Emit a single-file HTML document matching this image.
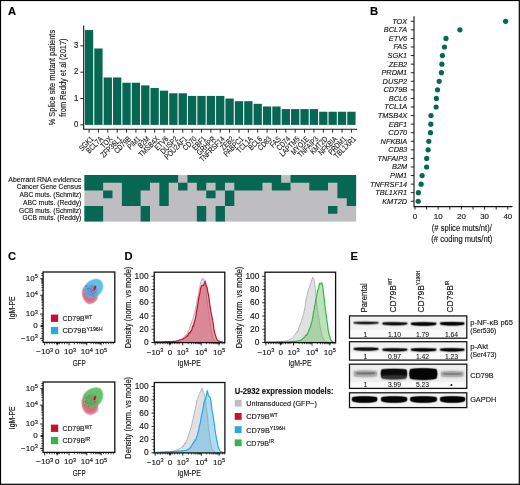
<!DOCTYPE html>
<html><head><meta charset="utf-8"><style>
html,body{margin:0;padding:0;background:#fff;}
body{width:520px;height:485px;overflow:hidden;}
svg{display:block;will-change:transform;font-family:"Liberation Sans",sans-serif;}
text{stroke:#161414;stroke-width:0.14px;}
</style></head><body>
<svg width="520" height="485" viewBox="0 0 520 485">
<defs>
<filter id="blur05" x="-20%" y="-100%" width="140%" height="300%"><feGaussianBlur stdDeviation="0.5"/></filter>
<filter id="blur06" x="-30%" y="-60%" width="160%" height="220%"><feGaussianBlur stdDeviation="0.6"/></filter>
<filter id="blur07" x="-20%" y="-150%" width="140%" height="400%"><feGaussianBlur stdDeviation="0.7"/></filter>
<filter id="blur08" x="-20%" y="-100%" width="140%" height="300%"><feGaussianBlur stdDeviation="0.8"/></filter>
<filter id="blur10" x="-20%" y="-150%" width="140%" height="400%"><feGaussianBlur stdDeviation="1.0"/></filter>
<filter id="blur12" x="-30%" y="-150%" width="160%" height="400%"><feGaussianBlur stdDeviation="1.2"/></filter>
</defs>
<rect x="0" y="0" width="520" height="485" fill="#fff"/>
<g id="A">
<text x="8.00" y="15.20" font-size="11.2" text-anchor="start" font-weight="bold" font-style="normal" fill="#000" >A</text>
<rect x="84.90" y="30.04" width="8.3" height="94.86" fill="#066852"/>
<rect x="94.27" y="48.48" width="8.3" height="76.42" fill="#066852"/>
<rect x="103.64" y="77.47" width="8.3" height="47.43" fill="#066852"/>
<rect x="113.01" y="77.47" width="8.3" height="47.43" fill="#066852"/>
<rect x="122.38" y="82.74" width="8.3" height="42.16" fill="#066852"/>
<rect x="131.75" y="82.74" width="8.3" height="42.16" fill="#066852"/>
<rect x="141.12" y="85.38" width="8.3" height="39.53" fill="#066852"/>
<rect x="150.49" y="88.01" width="8.3" height="36.89" fill="#066852"/>
<rect x="159.86" y="90.65" width="8.3" height="34.25" fill="#066852"/>
<rect x="169.23" y="93.28" width="8.3" height="31.62" fill="#066852"/>
<rect x="178.60" y="93.28" width="8.3" height="31.62" fill="#066852"/>
<rect x="187.97" y="95.92" width="8.3" height="28.98" fill="#066852"/>
<rect x="197.34" y="95.92" width="8.3" height="28.98" fill="#066852"/>
<rect x="206.71" y="95.92" width="8.3" height="28.98" fill="#066852"/>
<rect x="216.08" y="95.92" width="8.3" height="28.98" fill="#066852"/>
<rect x="225.45" y="98.55" width="8.3" height="26.35" fill="#066852"/>
<rect x="234.82" y="101.19" width="8.3" height="23.72" fill="#066852"/>
<rect x="244.19" y="101.19" width="8.3" height="23.72" fill="#066852"/>
<rect x="253.56" y="103.82" width="8.3" height="21.08" fill="#066852"/>
<rect x="262.93" y="106.46" width="8.3" height="18.44" fill="#066852"/>
<rect x="272.30" y="106.46" width="8.3" height="18.44" fill="#066852"/>
<rect x="281.67" y="109.09" width="8.3" height="15.81" fill="#066852"/>
<rect x="291.04" y="109.09" width="8.3" height="15.81" fill="#066852"/>
<rect x="300.41" y="109.09" width="8.3" height="15.81" fill="#066852"/>
<rect x="309.78" y="109.09" width="8.3" height="15.81" fill="#066852"/>
<rect x="319.15" y="111.73" width="8.3" height="13.17" fill="#066852"/>
<rect x="328.52" y="111.73" width="8.3" height="13.17" fill="#066852"/>
<rect x="337.89" y="111.73" width="8.3" height="13.17" fill="#066852"/>
<rect x="347.26" y="111.73" width="8.3" height="13.17" fill="#066852"/>
<path d="M83.7 25.5 V129.2 H357" fill="none" stroke="#111" stroke-width="1.1"/>
<line x1="80.3" y1="124.90" x2="83.7" y2="124.90" stroke="#111" stroke-width="0.9"/>
<text x="78.30" y="127.00" font-size="8.4" text-anchor="end" font-weight="normal" font-style="normal" fill="#161414" textLength="4.3" lengthAdjust="spacingAndGlyphs" >0</text>
<line x1="80.3" y1="98.55" x2="83.7" y2="98.55" stroke="#111" stroke-width="0.9"/>
<text x="78.30" y="100.65" font-size="8.4" text-anchor="end" font-weight="normal" font-style="normal" fill="#161414" textLength="4.3" lengthAdjust="spacingAndGlyphs" >1</text>
<line x1="80.3" y1="72.20" x2="83.7" y2="72.20" stroke="#111" stroke-width="0.9"/>
<text x="78.30" y="74.30" font-size="8.4" text-anchor="end" font-weight="normal" font-style="normal" fill="#161414" textLength="4.3" lengthAdjust="spacingAndGlyphs" >2</text>
<line x1="80.3" y1="45.85" x2="83.7" y2="45.85" stroke="#111" stroke-width="0.9"/>
<text x="78.30" y="47.95" font-size="8.4" text-anchor="end" font-weight="normal" font-style="normal" fill="#161414" textLength="4.3" lengthAdjust="spacingAndGlyphs" >3</text>
<line x1="89.05" y1="129.2" x2="89.05" y2="132.7" stroke="#111" stroke-width="0.9"/>
<text transform="translate(94.05,139.6) rotate(-45) scale(0.8,1)" font-size="7.9" text-anchor="end" fill="#161414" style="stroke-width:0.1px">SGK1</text>
<line x1="98.42" y1="129.2" x2="98.42" y2="132.7" stroke="#111" stroke-width="0.9"/>
<text transform="translate(103.42,139.6) rotate(-45) scale(0.8,1)" font-size="7.9" text-anchor="end" fill="#161414" style="stroke-width:0.1px">BCL7A</text>
<line x1="107.79" y1="129.2" x2="107.79" y2="132.7" stroke="#111" stroke-width="0.9"/>
<text transform="translate(112.79,139.6) rotate(-45) scale(0.8,1)" font-size="7.9" text-anchor="end" fill="#161414" style="stroke-width:0.1px">TOX</text>
<line x1="117.16" y1="129.2" x2="117.16" y2="132.7" stroke="#111" stroke-width="0.9"/>
<text transform="translate(122.16,139.6) rotate(-45) scale(0.8,1)" font-size="7.9" text-anchor="end" fill="#161414" style="stroke-width:0.1px">ZFP36L1</text>
<line x1="126.53" y1="129.2" x2="126.53" y2="132.7" stroke="#111" stroke-width="0.9"/>
<text transform="translate(131.53,139.6) rotate(-45) scale(0.8,1)" font-size="7.9" text-anchor="end" fill="#161414" style="stroke-width:0.1px">CD79B</text>
<line x1="135.90" y1="129.2" x2="135.90" y2="132.7" stroke="#111" stroke-width="0.9"/>
<text transform="translate(140.90,139.6) rotate(-45) scale(0.8,1)" font-size="7.9" text-anchor="end" fill="#161414" style="stroke-width:0.1px">PIM1</text>
<line x1="145.27" y1="129.2" x2="145.27" y2="132.7" stroke="#111" stroke-width="0.9"/>
<text transform="translate(150.27,139.6) rotate(-45) scale(0.8,1)" font-size="7.9" text-anchor="end" fill="#161414" style="stroke-width:0.1px">B2M</text>
<line x1="154.64" y1="129.2" x2="154.64" y2="132.7" stroke="#111" stroke-width="0.9"/>
<text transform="translate(159.64,139.6) rotate(-45) scale(0.8,1)" font-size="7.9" text-anchor="end" fill="#161414" style="stroke-width:0.1px">TMSB4X</text>
<line x1="164.01" y1="129.2" x2="164.01" y2="132.7" stroke="#111" stroke-width="0.9"/>
<text transform="translate(169.01,139.6) rotate(-45) scale(0.8,1)" font-size="7.9" text-anchor="end" fill="#161414" style="stroke-width:0.1px">ETV6</text>
<line x1="173.38" y1="129.2" x2="173.38" y2="132.7" stroke="#111" stroke-width="0.9"/>
<text transform="translate(178.38,139.6) rotate(-45) scale(0.8,1)" font-size="7.9" text-anchor="end" fill="#161414" style="stroke-width:0.1px">DUSP2</text>
<line x1="182.75" y1="129.2" x2="182.75" y2="132.7" stroke="#111" stroke-width="0.9"/>
<text transform="translate(187.75,139.6) rotate(-45) scale(0.8,1)" font-size="7.9" text-anchor="end" fill="#161414" style="stroke-width:0.1px">POU2AF1</text>
<line x1="192.12" y1="129.2" x2="192.12" y2="132.7" stroke="#111" stroke-width="0.9"/>
<text transform="translate(197.12,139.6) rotate(-45) scale(0.8,1)" font-size="7.9" text-anchor="end" fill="#161414" style="stroke-width:0.1px">CD70</text>
<line x1="201.49" y1="129.2" x2="201.49" y2="132.7" stroke="#111" stroke-width="0.9"/>
<text transform="translate(206.49,139.6) rotate(-45) scale(0.8,1)" font-size="7.9" text-anchor="end" fill="#161414" style="stroke-width:0.1px">EBF1</text>
<line x1="210.86" y1="129.2" x2="210.86" y2="132.7" stroke="#111" stroke-width="0.9"/>
<text transform="translate(215.86,139.6) rotate(-45) scale(0.8,1)" font-size="7.9" text-anchor="end" fill="#161414" style="stroke-width:0.1px">GRHPR</text>
<line x1="220.23" y1="129.2" x2="220.23" y2="132.7" stroke="#111" stroke-width="0.9"/>
<text transform="translate(225.23,139.6) rotate(-45) scale(0.8,1)" font-size="7.9" text-anchor="end" fill="#161414" style="stroke-width:0.1px">TNFRSF14</text>
<line x1="229.60" y1="129.2" x2="229.60" y2="132.7" stroke="#111" stroke-width="0.9"/>
<text transform="translate(234.60,139.6) rotate(-45) scale(0.8,1)" font-size="7.9" text-anchor="end" fill="#161414" style="stroke-width:0.1px">ZEB2</text>
<line x1="238.97" y1="129.2" x2="238.97" y2="132.7" stroke="#111" stroke-width="0.9"/>
<text transform="translate(243.97,139.6) rotate(-45) scale(0.8,1)" font-size="7.9" text-anchor="end" fill="#161414" style="stroke-width:0.1px">PABPC1</text>
<line x1="248.34" y1="129.2" x2="248.34" y2="132.7" stroke="#111" stroke-width="0.9"/>
<text transform="translate(253.34,139.6) rotate(-45) scale(0.8,1)" font-size="7.9" text-anchor="end" fill="#161414" style="stroke-width:0.1px">TCL1A</text>
<line x1="257.71" y1="129.2" x2="257.71" y2="132.7" stroke="#111" stroke-width="0.9"/>
<text transform="translate(262.71,139.6) rotate(-45) scale(0.8,1)" font-size="7.9" text-anchor="end" fill="#161414" style="stroke-width:0.1px">BCL6</text>
<line x1="267.08" y1="129.2" x2="267.08" y2="132.7" stroke="#111" stroke-width="0.9"/>
<text transform="translate(272.08,139.6) rotate(-45) scale(0.8,1)" font-size="7.9" text-anchor="end" fill="#161414" style="stroke-width:0.1px">CD83</text>
<line x1="276.45" y1="129.2" x2="276.45" y2="132.7" stroke="#111" stroke-width="0.9"/>
<text transform="translate(281.45,139.6) rotate(-45) scale(0.8,1)" font-size="7.9" text-anchor="end" fill="#161414" style="stroke-width:0.1px">FAS</text>
<line x1="285.82" y1="129.2" x2="285.82" y2="132.7" stroke="#111" stroke-width="0.9"/>
<text transform="translate(290.82,139.6) rotate(-45) scale(0.8,1)" font-size="7.9" text-anchor="end" fill="#161414" style="stroke-width:0.1px">CD74</text>
<line x1="295.19" y1="129.2" x2="295.19" y2="132.7" stroke="#111" stroke-width="0.9"/>
<text transform="translate(300.19,139.6) rotate(-45) scale(0.8,1)" font-size="7.9" text-anchor="end" fill="#161414" style="stroke-width:0.1px">LAPTM5</text>
<line x1="304.56" y1="129.2" x2="304.56" y2="132.7" stroke="#111" stroke-width="0.9"/>
<text transform="translate(309.56,139.6) rotate(-45) scale(0.8,1)" font-size="7.9" text-anchor="end" fill="#161414" style="stroke-width:0.1px">MYO1E</text>
<line x1="313.93" y1="129.2" x2="313.93" y2="132.7" stroke="#111" stroke-width="0.9"/>
<text transform="translate(318.93,139.6) rotate(-45) scale(0.8,1)" font-size="7.9" text-anchor="end" fill="#161414" style="stroke-width:0.1px">TNFAIP3</text>
<line x1="323.30" y1="129.2" x2="323.30" y2="132.7" stroke="#111" stroke-width="0.9"/>
<text transform="translate(328.30,139.6) rotate(-45) scale(0.8,1)" font-size="7.9" text-anchor="end" fill="#161414" style="stroke-width:0.1px">KMT2D</text>
<line x1="332.67" y1="129.2" x2="332.67" y2="132.7" stroke="#111" stroke-width="0.9"/>
<text transform="translate(337.67,139.6) rotate(-45) scale(0.8,1)" font-size="7.9" text-anchor="end" fill="#161414" style="stroke-width:0.1px">NFKBIA</text>
<line x1="342.04" y1="129.2" x2="342.04" y2="132.7" stroke="#111" stroke-width="0.9"/>
<text transform="translate(347.04,139.6) rotate(-45) scale(0.8,1)" font-size="7.9" text-anchor="end" fill="#161414" style="stroke-width:0.1px">PRDM1</text>
<line x1="351.41" y1="129.2" x2="351.41" y2="132.7" stroke="#111" stroke-width="0.9"/>
<text transform="translate(356.41,139.6) rotate(-45) scale(0.8,1)" font-size="7.9" text-anchor="end" fill="#161414" style="stroke-width:0.1px">TBL1XR1</text>
<text transform="translate(54.6,77.6) rotate(-90)" font-size="9.3" text-anchor="middle" fill="#161414" textLength="95.5" lengthAdjust="spacingAndGlyphs">% Splice site mutant patients</text>
<text transform="translate(65.6,77.6) rotate(-90)" font-size="9.3" text-anchor="middle" fill="#161414" textLength="78.4" lengthAdjust="spacingAndGlyphs">from Reddy et al (2017)</text>
<rect x="84.4" y="175.1" width="271.73" height="46.50" fill="#bebdc2"/>
<path d="M84.40 175.10h9.37v7.75h-9.37ZM84.40 182.85h9.37v7.75h-9.37ZM84.40 206.10h9.37v7.75h-9.37ZM84.40 213.85h9.37v7.75h-9.37ZM93.77 175.10h9.37v7.75h-9.37ZM93.77 182.85h9.37v7.75h-9.37ZM93.77 206.10h9.37v7.75h-9.37ZM93.77 213.85h9.37v7.75h-9.37ZM103.14 175.10h9.37v7.75h-9.37ZM103.14 190.60h9.37v7.75h-9.37ZM112.51 175.10h9.37v7.75h-9.37ZM121.88 175.10h9.37v7.75h-9.37ZM121.88 182.85h9.37v7.75h-9.37ZM121.88 190.60h9.37v7.75h-9.37ZM121.88 198.35h9.37v7.75h-9.37ZM131.25 175.10h9.37v7.75h-9.37ZM131.25 182.85h9.37v7.75h-9.37ZM131.25 190.60h9.37v7.75h-9.37ZM131.25 198.35h9.37v7.75h-9.37ZM140.62 175.10h9.37v7.75h-9.37ZM140.62 182.85h9.37v7.75h-9.37ZM140.62 206.10h9.37v7.75h-9.37ZM140.62 213.85h9.37v7.75h-9.37ZM149.99 175.10h9.37v7.75h-9.37ZM159.36 175.10h9.37v7.75h-9.37ZM159.36 182.85h9.37v7.75h-9.37ZM159.36 190.60h9.37v7.75h-9.37ZM159.36 198.35h9.37v7.75h-9.37ZM168.73 175.10h9.37v7.75h-9.37ZM178.10 182.85h9.37v7.75h-9.37ZM187.47 175.10h9.37v7.75h-9.37ZM196.84 175.10h9.37v7.75h-9.37ZM196.84 182.85h9.37v7.75h-9.37ZM196.84 206.10h9.37v7.75h-9.37ZM196.84 213.85h9.37v7.75h-9.37ZM206.21 175.10h9.37v7.75h-9.37ZM206.21 190.60h9.37v7.75h-9.37ZM215.58 175.10h9.37v7.75h-9.37ZM215.58 182.85h9.37v7.75h-9.37ZM215.58 206.10h9.37v7.75h-9.37ZM215.58 213.85h9.37v7.75h-9.37ZM224.95 175.10h9.37v7.75h-9.37ZM224.95 190.60h9.37v7.75h-9.37ZM224.95 198.35h9.37v7.75h-9.37ZM234.32 175.10h9.37v7.75h-9.37ZM234.32 182.85h9.37v7.75h-9.37ZM243.69 175.10h9.37v7.75h-9.37ZM243.69 182.85h9.37v7.75h-9.37ZM253.06 175.10h9.37v7.75h-9.37ZM253.06 182.85h9.37v7.75h-9.37ZM262.43 175.10h9.37v7.75h-9.37ZM271.80 175.10h9.37v7.75h-9.37ZM271.80 182.85h9.37v7.75h-9.37ZM281.17 182.85h9.37v7.75h-9.37ZM290.54 175.10h9.37v7.75h-9.37ZM299.91 175.10h9.37v7.75h-9.37ZM309.28 175.10h9.37v7.75h-9.37ZM309.28 182.85h9.37v7.75h-9.37ZM318.65 175.10h9.37v7.75h-9.37ZM318.65 182.85h9.37v7.75h-9.37ZM328.02 175.10h9.37v7.75h-9.37ZM328.02 206.10h9.37v7.75h-9.37ZM337.39 175.10h9.37v7.75h-9.37ZM337.39 182.85h9.37v7.75h-9.37ZM337.39 190.60h9.37v7.75h-9.37ZM346.76 175.10h9.37v7.75h-9.37ZM346.76 182.85h9.37v7.75h-9.37ZM346.76 190.60h9.37v7.75h-9.37ZM346.76 198.35h9.37v7.75h-9.37Z" fill="#066852"/>
<text x="81.30" y="181.57" font-size="7.2" text-anchor="end" font-weight="normal" font-style="normal" fill="#161414" textLength="73" lengthAdjust="spacingAndGlyphs" >Aberrant RNA evidence</text>
<text x="81.30" y="189.32" font-size="7.2" text-anchor="end" font-weight="normal" font-style="normal" fill="#161414" textLength="64.5" lengthAdjust="spacingAndGlyphs" >Cancer Gene Census</text>
<text x="81.30" y="197.07" font-size="7.2" text-anchor="end" font-weight="normal" font-style="normal" fill="#161414" textLength="61.8" lengthAdjust="spacingAndGlyphs" >ABC muts. (Schmitz)</text>
<text x="81.30" y="204.82" font-size="7.2" text-anchor="end" font-weight="normal" font-style="normal" fill="#161414" textLength="58.3" lengthAdjust="spacingAndGlyphs" >ABC muts. (Reddy)</text>
<text x="81.30" y="212.57" font-size="7.2" text-anchor="end" font-weight="normal" font-style="normal" fill="#161414" textLength="62.3" lengthAdjust="spacingAndGlyphs" >GCB muts. (Schmitz)</text>
<text x="81.30" y="220.32" font-size="7.2" text-anchor="end" font-weight="normal" font-style="normal" fill="#161414" textLength="58.8" lengthAdjust="spacingAndGlyphs" >GCB muts. (Reddy)</text>
</g>
<g id="B">
<text x="370.00" y="14.90" font-size="11.2" text-anchor="start" font-weight="bold" font-style="normal" fill="#000" >B</text>
<path d="M414 16.3 V206.6 H512.5" fill="none" stroke="#111" stroke-width="1.1"/>
<line x1="410.8" y1="21.30" x2="414" y2="21.30" stroke="#111" stroke-width="0.9"/>
<text x="407.20" y="23.70" font-size="7.6" text-anchor="end" font-weight="normal" font-style="italic" fill="#161414" textLength="15.020449999999999" lengthAdjust="spacingAndGlyphs" >TOX</text>
<circle cx="505.6" cy="21.30" r="2.6" fill="#066852"/>
<line x1="410.8" y1="29.87" x2="414" y2="29.87" stroke="#111" stroke-width="0.9"/>
<text x="407.20" y="32.27" font-size="7.6" text-anchor="end" font-weight="normal" font-style="italic" fill="#161414" textLength="23.357721249999997" lengthAdjust="spacingAndGlyphs" >BCL7A</text>
<circle cx="459.9" cy="29.87" r="2.6" fill="#066852"/>
<line x1="410.8" y1="38.44" x2="414" y2="38.44" stroke="#111" stroke-width="0.9"/>
<text x="407.20" y="40.84" font-size="7.6" text-anchor="end" font-weight="normal" font-style="italic" fill="#161414" textLength="18.436911249999998" lengthAdjust="spacingAndGlyphs" >ETV6</text>
<circle cx="446" cy="38.44" r="2.6" fill="#066852"/>
<line x1="410.8" y1="47.01" x2="414" y2="47.01" stroke="#111" stroke-width="0.9"/>
<text x="407.20" y="49.41" font-size="7.6" text-anchor="end" font-weight="normal" font-style="italic" fill="#161414" textLength="13.7902475" lengthAdjust="spacingAndGlyphs" >FAS</text>
<circle cx="444.5" cy="47.01" r="2.6" fill="#066852"/>
<line x1="410.8" y1="55.58" x2="414" y2="55.58" stroke="#111" stroke-width="0.9"/>
<text x="407.20" y="57.98" font-size="7.6" text-anchor="end" font-weight="normal" font-style="italic" fill="#161414" textLength="19.668265625" lengthAdjust="spacingAndGlyphs" >SGK1</text>
<circle cx="442.4" cy="55.58" r="2.6" fill="#066852"/>
<line x1="410.8" y1="64.15" x2="414" y2="64.15" stroke="#111" stroke-width="0.9"/>
<text x="407.20" y="66.55" font-size="7.6" text-anchor="end" font-weight="normal" font-style="italic" fill="#161414" textLength="18.436911249999998" lengthAdjust="spacingAndGlyphs" >ZEB2</text>
<circle cx="441.9" cy="64.15" r="2.6" fill="#066852"/>
<line x1="410.8" y1="72.72" x2="414" y2="72.72" stroke="#111" stroke-width="0.9"/>
<text x="407.20" y="75.12" font-size="7.6" text-anchor="end" font-weight="normal" font-style="italic" fill="#161414" textLength="25.805455624999997" lengthAdjust="spacingAndGlyphs" >PRDM1</text>
<circle cx="441.4" cy="72.72" r="2.6" fill="#066852"/>
<line x1="410.8" y1="81.29" x2="414" y2="81.29" stroke="#111" stroke-width="0.9"/>
<text x="407.20" y="83.69" font-size="7.6" text-anchor="end" font-weight="normal" font-style="italic" fill="#161414" textLength="24.582164374999998" lengthAdjust="spacingAndGlyphs" >DUSP2</text>
<circle cx="439.2" cy="81.29" r="2.6" fill="#066852"/>
<line x1="410.8" y1="89.86" x2="414" y2="89.86" stroke="#111" stroke-width="0.9"/>
<text x="407.20" y="92.26" font-size="7.6" text-anchor="end" font-weight="normal" font-style="italic" fill="#161414" textLength="23.764333124999997" lengthAdjust="spacingAndGlyphs" >CD79B</text>
<circle cx="437.5" cy="89.86" r="2.6" fill="#066852"/>
<line x1="410.8" y1="98.43" x2="414" y2="98.43" stroke="#111" stroke-width="0.9"/>
<text x="407.20" y="100.83" font-size="7.6" text-anchor="end" font-weight="normal" font-style="italic" fill="#161414" textLength="18.440366875" lengthAdjust="spacingAndGlyphs" >BCL6</text>
<circle cx="436.4" cy="98.43" r="2.6" fill="#066852"/>
<line x1="410.8" y1="107.00" x2="414" y2="107.00" stroke="#111" stroke-width="0.9"/>
<text x="407.20" y="109.40" font-size="7.6" text-anchor="end" font-weight="normal" font-style="italic" fill="#161414" textLength="22.94304625" lengthAdjust="spacingAndGlyphs" >TCL1A</text>
<circle cx="436.1" cy="107.00" r="2.6" fill="#066852"/>
<line x1="410.8" y1="115.57" x2="414" y2="115.57" stroke="#111" stroke-width="0.9"/>
<text x="407.20" y="117.97" font-size="7.6" text-anchor="end" font-weight="normal" font-style="italic" fill="#161414" textLength="29.494911249999998" lengthAdjust="spacingAndGlyphs" >TMSB4X</text>
<circle cx="431" cy="115.57" r="2.6" fill="#066852"/>
<line x1="410.8" y1="124.14" x2="414" y2="124.14" stroke="#111" stroke-width="0.9"/>
<text x="407.20" y="126.54" font-size="7.6" text-anchor="end" font-weight="normal" font-style="italic" fill="#161414" textLength="18.436911249999998" lengthAdjust="spacingAndGlyphs" >EBF1</text>
<circle cx="430.8" cy="124.14" r="2.6" fill="#066852"/>
<line x1="410.8" y1="132.71" x2="414" y2="132.71" stroke="#111" stroke-width="0.9"/>
<text x="407.20" y="135.11" font-size="7.6" text-anchor="end" font-weight="normal" font-style="italic" fill="#161414" textLength="18.846978749999998" lengthAdjust="spacingAndGlyphs" >CD70</text>
<circle cx="430.5" cy="132.71" r="2.6" fill="#066852"/>
<line x1="410.8" y1="141.28" x2="414" y2="141.28" stroke="#111" stroke-width="0.9"/>
<text x="407.20" y="143.68" font-size="7.6" text-anchor="end" font-weight="normal" font-style="italic" fill="#161414" textLength="26.626742499999995" lengthAdjust="spacingAndGlyphs" >NFKBIA</text>
<circle cx="428.8" cy="141.28" r="2.6" fill="#066852"/>
<line x1="410.8" y1="149.85" x2="414" y2="149.85" stroke="#111" stroke-width="0.9"/>
<text x="407.20" y="152.25" font-size="7.6" text-anchor="end" font-weight="normal" font-style="italic" fill="#161414" textLength="18.846978749999998" lengthAdjust="spacingAndGlyphs" >CD83</text>
<circle cx="428.1" cy="149.85" r="2.6" fill="#066852"/>
<line x1="410.8" y1="158.42" x2="414" y2="158.42" stroke="#111" stroke-width="0.9"/>
<text x="407.20" y="160.82" font-size="7.6" text-anchor="end" font-weight="normal" font-style="italic" fill="#161414" textLength="29.764449999999993" lengthAdjust="spacingAndGlyphs" >TNFAIP3</text>
<circle cx="426.7" cy="158.42" r="2.6" fill="#066852"/>
<line x1="410.8" y1="166.99" x2="414" y2="166.99" stroke="#111" stroke-width="0.9"/>
<text x="407.20" y="169.39" font-size="7.6" text-anchor="end" font-weight="normal" font-style="italic" fill="#161414" textLength="15.157523124999999" lengthAdjust="spacingAndGlyphs" >B2M</text>
<circle cx="426.6" cy="166.99" r="2.6" fill="#066852"/>
<line x1="410.8" y1="175.56" x2="414" y2="175.56" stroke="#111" stroke-width="0.9"/>
<text x="407.20" y="177.96" font-size="7.6" text-anchor="end" font-weight="normal" font-style="italic" fill="#161414" textLength="17.205556875" lengthAdjust="spacingAndGlyphs" >PIM1</text>
<circle cx="422.1" cy="175.56" r="2.6" fill="#066852"/>
<line x1="410.8" y1="184.13" x2="414" y2="184.13" stroke="#111" stroke-width="0.9"/>
<text x="407.20" y="186.53" font-size="7.6" text-anchor="end" font-weight="normal" font-style="italic" fill="#161414" textLength="37.27237124999999" lengthAdjust="spacingAndGlyphs" >TNFRSF14</text>
<circle cx="421.1" cy="184.13" r="2.6" fill="#066852"/>
<line x1="410.8" y1="192.70" x2="414" y2="192.70" stroke="#111" stroke-width="0.9"/>
<text x="407.20" y="195.10" font-size="7.6" text-anchor="end" font-weight="normal" font-style="italic" fill="#161414" textLength="31.959923749999998" lengthAdjust="spacingAndGlyphs" >TBL1XR1</text>
<circle cx="418.4" cy="192.70" r="2.6" fill="#066852"/>
<line x1="410.8" y1="201.27" x2="414" y2="201.27" stroke="#111" stroke-width="0.9"/>
<text x="407.20" y="203.67" font-size="7.6" text-anchor="end" font-weight="normal" font-style="italic" fill="#161414" textLength="24.98416875" lengthAdjust="spacingAndGlyphs" >KMT2D</text>
<circle cx="418.2" cy="201.27" r="2.6" fill="#066852"/>
<line x1="415.00" y1="206.6" x2="415.00" y2="209.6" stroke="#111" stroke-width="0.9"/>
<text x="415.00" y="218.90" font-size="7.9" text-anchor="middle" font-weight="normal" font-style="normal" fill="#161414" >0</text>
<line x1="426.60" y1="206.6" x2="426.60" y2="209.6" stroke="#111" stroke-width="0.9"/>
<line x1="438.20" y1="206.6" x2="438.20" y2="209.6" stroke="#111" stroke-width="0.9"/>
<text x="438.20" y="218.90" font-size="7.9" text-anchor="middle" font-weight="normal" font-style="normal" fill="#161414" >10</text>
<line x1="449.80" y1="206.6" x2="449.80" y2="209.6" stroke="#111" stroke-width="0.9"/>
<line x1="461.40" y1="206.6" x2="461.40" y2="209.6" stroke="#111" stroke-width="0.9"/>
<text x="461.40" y="218.90" font-size="7.9" text-anchor="middle" font-weight="normal" font-style="normal" fill="#161414" >20</text>
<line x1="473.00" y1="206.6" x2="473.00" y2="209.6" stroke="#111" stroke-width="0.9"/>
<line x1="484.60" y1="206.6" x2="484.60" y2="209.6" stroke="#111" stroke-width="0.9"/>
<text x="484.60" y="218.90" font-size="7.9" text-anchor="middle" font-weight="normal" font-style="normal" fill="#161414" >30</text>
<line x1="496.20" y1="206.6" x2="496.20" y2="209.6" stroke="#111" stroke-width="0.9"/>
<line x1="507.80" y1="206.6" x2="507.80" y2="209.6" stroke="#111" stroke-width="0.9"/>
<text x="507.80" y="218.90" font-size="7.9" text-anchor="middle" font-weight="normal" font-style="normal" fill="#161414" >40</text>
<text x="461.80" y="230.60" font-size="8.3" text-anchor="middle" font-weight="normal" font-style="normal" fill="#161414" textLength="60" lengthAdjust="spacingAndGlyphs" >(# splice muts/nt)/</text>
<text x="461.80" y="241.70" font-size="8.3" text-anchor="middle" font-weight="normal" font-style="normal" fill="#161414" textLength="61" lengthAdjust="spacingAndGlyphs" >(# coding muts/nt)</text>
</g>
<g id="C">
<text x="8.00" y="260.20" font-size="11.2" text-anchor="start" font-weight="bold" font-style="normal" fill="#000" >C</text>
<line x1="41.30" y1="290.23" x2="43.10" y2="290.23" stroke="#111" stroke-width="0.75"/>
<line x1="41.30" y1="287.33" x2="43.10" y2="287.33" stroke="#111" stroke-width="0.75"/>
<line x1="41.30" y1="285.27" x2="43.10" y2="285.27" stroke="#111" stroke-width="0.75"/>
<line x1="41.30" y1="283.67" x2="43.10" y2="283.67" stroke="#111" stroke-width="0.75"/>
<line x1="41.30" y1="282.36" x2="43.10" y2="282.36" stroke="#111" stroke-width="0.75"/>
<line x1="41.30" y1="281.26" x2="43.10" y2="281.26" stroke="#111" stroke-width="0.75"/>
<line x1="41.30" y1="280.30" x2="43.10" y2="280.30" stroke="#111" stroke-width="0.75"/>
<line x1="41.30" y1="279.45" x2="43.10" y2="279.45" stroke="#111" stroke-width="0.75"/>
<line x1="41.30" y1="308.34" x2="43.10" y2="308.34" stroke="#111" stroke-width="0.75"/>
<line x1="41.30" y1="305.03" x2="43.10" y2="305.03" stroke="#111" stroke-width="0.75"/>
<line x1="41.30" y1="302.68" x2="43.10" y2="302.68" stroke="#111" stroke-width="0.75"/>
<line x1="41.30" y1="300.86" x2="43.10" y2="300.86" stroke="#111" stroke-width="0.75"/>
<line x1="41.30" y1="299.37" x2="43.10" y2="299.37" stroke="#111" stroke-width="0.75"/>
<line x1="41.30" y1="298.11" x2="43.10" y2="298.11" stroke="#111" stroke-width="0.75"/>
<line x1="41.30" y1="297.02" x2="43.10" y2="297.02" stroke="#111" stroke-width="0.75"/>
<line x1="41.30" y1="296.06" x2="43.10" y2="296.06" stroke="#111" stroke-width="0.75"/>
<line x1="41.30" y1="273.50" x2="43.10" y2="273.50" stroke="#111" stroke-width="0.75"/>
<line x1="41.30" y1="275.50" x2="43.10" y2="275.50" stroke="#111" stroke-width="0.75"/>
<line x1="41.30" y1="316.00" x2="43.10" y2="316.00" stroke="#111" stroke-width="0.75"/>
<line x1="41.30" y1="318.50" x2="43.10" y2="318.50" stroke="#111" stroke-width="0.75"/>
<line x1="41.30" y1="321.00" x2="43.10" y2="321.00" stroke="#111" stroke-width="0.75"/>
<line x1="41.30" y1="323.50" x2="43.10" y2="323.50" stroke="#111" stroke-width="0.75"/>
<line x1="41.30" y1="326.00" x2="43.10" y2="326.00" stroke="#111" stroke-width="0.75"/>
<line x1="41.30" y1="328.50" x2="43.10" y2="328.50" stroke="#111" stroke-width="0.75"/>
<line x1="41.30" y1="331.00" x2="43.10" y2="331.00" stroke="#111" stroke-width="0.75"/>
<line x1="41.30" y1="333.50" x2="43.10" y2="333.50" stroke="#111" stroke-width="0.75"/>
<line x1="41.30" y1="336.00" x2="43.10" y2="336.00" stroke="#111" stroke-width="0.75"/>
<line x1="41.30" y1="338.40" x2="43.10" y2="338.40" stroke="#111" stroke-width="0.75"/>
<line x1="41.30" y1="340.50" x2="43.10" y2="340.50" stroke="#111" stroke-width="0.75"/>
<line x1="40.10" y1="278.70" x2="43.10" y2="278.70" stroke="#111" stroke-width="0.9"/>
<line x1="40.10" y1="295.20" x2="43.10" y2="295.20" stroke="#111" stroke-width="0.9"/>
<line x1="40.10" y1="314.00" x2="43.10" y2="314.00" stroke="#111" stroke-width="0.9"/>
<line x1="40.10" y1="326.00" x2="43.10" y2="326.00" stroke="#111" stroke-width="0.9"/>
<line x1="40.10" y1="338.40" x2="43.10" y2="338.40" stroke="#111" stroke-width="0.9"/>
<rect x="41.300000000000004" y="324.8" width="1.8" height="2.4" fill="#111"/>
<line x1="44.70" y1="342.40" x2="44.70" y2="345.40" stroke="#111" stroke-width="0.9"/>
<line x1="57.20" y1="342.40" x2="57.20" y2="345.40" stroke="#111" stroke-width="0.9"/>
<line x1="69.10" y1="342.40" x2="69.10" y2="345.40" stroke="#111" stroke-width="0.9"/>
<line x1="86.80" y1="342.40" x2="86.80" y2="345.40" stroke="#111" stroke-width="0.9"/>
<line x1="101.10" y1="342.40" x2="101.10" y2="345.40" stroke="#111" stroke-width="0.9"/>
<line x1="74.43" y1="342.40" x2="74.43" y2="344.20" stroke="#111" stroke-width="0.75"/>
<line x1="77.55" y1="342.40" x2="77.55" y2="344.20" stroke="#111" stroke-width="0.75"/>
<line x1="79.76" y1="342.40" x2="79.76" y2="344.20" stroke="#111" stroke-width="0.75"/>
<line x1="81.47" y1="342.40" x2="81.47" y2="344.20" stroke="#111" stroke-width="0.75"/>
<line x1="82.87" y1="342.40" x2="82.87" y2="344.20" stroke="#111" stroke-width="0.75"/>
<line x1="84.06" y1="342.40" x2="84.06" y2="344.20" stroke="#111" stroke-width="0.75"/>
<line x1="85.08" y1="342.40" x2="85.08" y2="344.20" stroke="#111" stroke-width="0.75"/>
<line x1="85.99" y1="342.40" x2="85.99" y2="344.20" stroke="#111" stroke-width="0.75"/>
<line x1="91.10" y1="342.40" x2="91.10" y2="344.20" stroke="#111" stroke-width="0.75"/>
<line x1="93.62" y1="342.40" x2="93.62" y2="344.20" stroke="#111" stroke-width="0.75"/>
<line x1="95.41" y1="342.40" x2="95.41" y2="344.20" stroke="#111" stroke-width="0.75"/>
<line x1="96.80" y1="342.40" x2="96.80" y2="344.20" stroke="#111" stroke-width="0.75"/>
<line x1="97.93" y1="342.40" x2="97.93" y2="344.20" stroke="#111" stroke-width="0.75"/>
<line x1="98.88" y1="342.40" x2="98.88" y2="344.20" stroke="#111" stroke-width="0.75"/>
<line x1="99.71" y1="342.40" x2="99.71" y2="344.20" stroke="#111" stroke-width="0.75"/>
<line x1="100.45" y1="342.40" x2="100.45" y2="344.20" stroke="#111" stroke-width="0.75"/>
<line x1="47.00" y1="342.40" x2="47.00" y2="344.20" stroke="#111" stroke-width="0.75"/>
<line x1="49.50" y1="342.40" x2="49.50" y2="344.20" stroke="#111" stroke-width="0.75"/>
<line x1="52.00" y1="342.40" x2="52.00" y2="344.20" stroke="#111" stroke-width="0.75"/>
<line x1="54.50" y1="342.40" x2="54.50" y2="344.20" stroke="#111" stroke-width="0.75"/>
<line x1="59.50" y1="342.40" x2="59.50" y2="344.20" stroke="#111" stroke-width="0.75"/>
<line x1="62.00" y1="342.40" x2="62.00" y2="344.20" stroke="#111" stroke-width="0.75"/>
<line x1="64.50" y1="342.40" x2="64.50" y2="344.20" stroke="#111" stroke-width="0.75"/>
<line x1="67.00" y1="342.40" x2="67.00" y2="344.20" stroke="#111" stroke-width="0.75"/>
<line x1="103.50" y1="342.40" x2="103.50" y2="344.20" stroke="#111" stroke-width="0.75"/>
<line x1="106.00" y1="342.40" x2="106.00" y2="344.20" stroke="#111" stroke-width="0.75"/>
<line x1="108.50" y1="342.40" x2="108.50" y2="344.20" stroke="#111" stroke-width="0.75"/>
<line x1="111.00" y1="342.40" x2="111.00" y2="344.20" stroke="#111" stroke-width="0.75"/>
<line x1="113.30" y1="342.40" x2="113.30" y2="344.20" stroke="#111" stroke-width="0.75"/>
<rect x="56.2" y="342.4" width="2.4" height="1.8" fill="#111"/>
<path d="M83.00 288.60 C83.67 287.02 85.17 286.52 86.50 286.00 C87.83 285.48 89.33 284.75 91.00 285.50 C92.67 286.25 95.40 288.67 96.50 290.50 C97.60 292.33 97.78 294.72 97.60 296.50 C97.42 298.28 96.67 299.98 95.40 301.20 C94.13 302.42 91.65 303.75 90.00 303.80 C88.35 303.85 86.75 302.88 85.50 301.50 C84.25 300.12 82.92 297.65 82.50 295.50 C82.08 293.35 82.33 290.18 83.00 288.60Z" fill="#e8879a" stroke="#e8879a" stroke-width="2.40" stroke-linejoin="round" opacity="0.12"/>
<path d="M83.00 288.60 C83.67 287.02 85.17 286.52 86.50 286.00 C87.83 285.48 89.33 284.75 91.00 285.50 C92.67 286.25 95.40 288.67 96.50 290.50 C97.60 292.33 97.78 294.72 97.60 296.50 C97.42 298.28 96.67 299.98 95.40 301.20 C94.13 302.42 91.65 303.75 90.00 303.80 C88.35 303.85 86.75 302.88 85.50 301.50 C84.25 300.12 82.92 297.65 82.50 295.50 C82.08 293.35 82.33 290.18 83.00 288.60Z" fill="#e8879a" stroke="#e8879a" stroke-width="1.60" stroke-linejoin="round" opacity="0.18"/>
<path d="M83.00 288.60 C83.67 287.02 85.17 286.52 86.50 286.00 C87.83 285.48 89.33 284.75 91.00 285.50 C92.67 286.25 95.40 288.67 96.50 290.50 C97.60 292.33 97.78 294.72 97.60 296.50 C97.42 298.28 96.67 299.98 95.40 301.20 C94.13 302.42 91.65 303.75 90.00 303.80 C88.35 303.85 86.75 302.88 85.50 301.50 C84.25 300.12 82.92 297.65 82.50 295.50 C82.08 293.35 82.33 290.18 83.00 288.60Z" fill="#e8879a" stroke="#e8879a" stroke-width="0.80" stroke-linejoin="round" opacity="0.25"/>
<path d="M83.00 288.60 C83.67 287.02 85.17 286.52 86.50 286.00 C87.83 285.48 89.33 284.75 91.00 285.50 C92.67 286.25 95.40 288.67 96.50 290.50 C97.60 292.33 97.78 294.72 97.60 296.50 C97.42 298.28 96.67 299.98 95.40 301.20 C94.13 302.42 91.65 303.75 90.00 303.80 C88.35 303.85 86.75 302.88 85.50 301.50 C84.25 300.12 82.92 297.65 82.50 295.50 C82.08 293.35 82.33 290.18 83.00 288.60Z" fill="#e5798f" opacity="0.9"/>
<path d="M84.10 289.88 C84.63 288.61 85.83 288.21 86.90 287.80 C87.97 287.39 89.17 286.80 90.50 287.40 C91.83 288.00 94.02 289.93 94.90 291.40 C95.78 292.87 95.93 294.77 95.78 296.20 C95.63 297.63 95.03 298.99 94.02 299.96 C93.01 300.93 91.02 302.00 89.70 302.04 C88.38 302.08 87.10 301.31 86.10 300.20 C85.10 299.09 84.03 297.12 83.70 295.40 C83.37 293.68 83.57 291.15 84.10 289.88Z" fill="#d94a68" opacity="0.45"/>
<path d="M96.60 279.30 C97.98 279.47 99.77 279.85 100.80 281.00 C101.83 282.15 102.72 284.45 102.80 286.20 C102.88 287.95 102.18 289.93 101.30 291.50 C100.42 293.07 98.88 294.52 97.50 295.60 C96.12 296.68 94.50 297.68 93.00 298.00 C91.50 298.32 89.75 298.08 88.50 297.50 C87.25 296.92 86.20 295.83 85.50 294.50 C84.80 293.17 84.25 291.08 84.30 289.50 C84.35 287.92 85.05 286.25 85.80 285.00 C86.55 283.75 87.68 282.83 88.80 282.00 C89.92 281.17 91.20 280.45 92.50 280.00 C93.80 279.55 95.22 279.13 96.60 279.30Z" fill="#4db5e6" stroke="#4db5e6" stroke-width="2.40" stroke-linejoin="round" opacity="0.12"/>
<path d="M96.60 279.30 C97.98 279.47 99.77 279.85 100.80 281.00 C101.83 282.15 102.72 284.45 102.80 286.20 C102.88 287.95 102.18 289.93 101.30 291.50 C100.42 293.07 98.88 294.52 97.50 295.60 C96.12 296.68 94.50 297.68 93.00 298.00 C91.50 298.32 89.75 298.08 88.50 297.50 C87.25 296.92 86.20 295.83 85.50 294.50 C84.80 293.17 84.25 291.08 84.30 289.50 C84.35 287.92 85.05 286.25 85.80 285.00 C86.55 283.75 87.68 282.83 88.80 282.00 C89.92 281.17 91.20 280.45 92.50 280.00 C93.80 279.55 95.22 279.13 96.60 279.30Z" fill="#4db5e6" stroke="#4db5e6" stroke-width="1.60" stroke-linejoin="round" opacity="0.18"/>
<path d="M96.60 279.30 C97.98 279.47 99.77 279.85 100.80 281.00 C101.83 282.15 102.72 284.45 102.80 286.20 C102.88 287.95 102.18 289.93 101.30 291.50 C100.42 293.07 98.88 294.52 97.50 295.60 C96.12 296.68 94.50 297.68 93.00 298.00 C91.50 298.32 89.75 298.08 88.50 297.50 C87.25 296.92 86.20 295.83 85.50 294.50 C84.80 293.17 84.25 291.08 84.30 289.50 C84.35 287.92 85.05 286.25 85.80 285.00 C86.55 283.75 87.68 282.83 88.80 282.00 C89.92 281.17 91.20 280.45 92.50 280.00 C93.80 279.55 95.22 279.13 96.60 279.30Z" fill="#4db5e6" stroke="#4db5e6" stroke-width="0.80" stroke-linejoin="round" opacity="0.25"/>
<path d="M96.60 279.30 C97.98 279.47 99.77 279.85 100.80 281.00 C101.83 282.15 102.72 284.45 102.80 286.20 C102.88 287.95 102.18 289.93 101.30 291.50 C100.42 293.07 98.88 294.52 97.50 295.60 C96.12 296.68 94.50 297.68 93.00 298.00 C91.50 298.32 89.75 298.08 88.50 297.50 C87.25 296.92 86.20 295.83 85.50 294.50 C84.80 293.17 84.25 291.08 84.30 289.50 C84.35 287.92 85.05 286.25 85.80 285.00 C86.55 283.75 87.68 282.83 88.80 282.00 C89.92 281.17 91.20 280.45 92.50 280.00 C93.80 279.55 95.22 279.13 96.60 279.30Z" fill="#4db5e6" opacity="0.78"/>
<path d="M93.96 284.78 C94.79 284.88 95.86 285.11 96.48 285.80 C97.10 286.49 97.63 287.87 97.68 288.92 C97.73 289.97 97.31 291.16 96.78 292.10 C96.25 293.04 95.33 293.91 94.50 294.56 C93.67 295.21 92.70 295.81 91.80 296.00 C90.90 296.19 89.85 296.05 89.10 295.70 C88.35 295.35 87.72 294.70 87.30 293.90 C86.88 293.10 86.55 291.85 86.58 290.90 C86.61 289.95 87.03 288.95 87.48 288.20 C87.93 287.45 88.61 286.90 89.28 286.40 C89.95 285.90 90.72 285.47 91.50 285.20 C92.28 284.93 93.13 284.68 93.96 284.78Z" fill="#8a5a8a" opacity="0.22"/>
<circle cx="93.13" cy="290.48" r="0.45" fill="#b03050" opacity="0.8"/>
<circle cx="97.77" cy="291.77" r="0.45" fill="#9fd6f2" opacity="0.8"/>
<circle cx="92.55" cy="296.18" r="0.45" fill="#b03050" opacity="0.8"/>
<circle cx="86.74" cy="285.75" r="0.45" fill="#c8102e" opacity="0.8"/>
<circle cx="91.22" cy="296.63" r="0.45" fill="#9fd6f2" opacity="0.8"/>
<circle cx="91.26" cy="292.99" r="0.45" fill="#9fd6f2" opacity="0.8"/>
<circle cx="84.90" cy="289.82" r="0.45" fill="#b03050" opacity="0.8"/>
<circle cx="86.82" cy="291.84" r="0.45" fill="#9fd6f2" opacity="0.8"/>
<circle cx="89.39" cy="288.32" r="0.45" fill="#b03050" opacity="0.8"/>
<circle cx="90.37" cy="294.10" r="0.45" fill="#b03050" opacity="0.8"/>
<circle cx="91.75" cy="291.20" r="0.45" fill="#c8102e" opacity="0.8"/>
<circle cx="90.27" cy="287.71" r="0.45" fill="#9fd6f2" opacity="0.8"/>
<circle cx="86.09" cy="286.47" r="0.45" fill="#b03050" opacity="0.8"/>
<circle cx="85.75" cy="286.01" r="0.45" fill="#b03050" opacity="0.8"/>
<circle cx="84.46" cy="294.01" r="0.45" fill="#b03050" opacity="0.8"/>
<circle cx="91.58" cy="292.05" r="0.45" fill="#c8102e" opacity="0.8"/>
<circle cx="94.91" cy="292.22" r="0.45" fill="#b03050" opacity="0.8"/>
<circle cx="92.99" cy="286.85" r="0.45" fill="#b03050" opacity="0.8"/>
<circle cx="91.25" cy="285.63" r="0.45" fill="#b03050" opacity="0.8"/>
<circle cx="87.89" cy="288.52" r="0.45" fill="#c8102e" opacity="0.8"/>
<circle cx="92.89" cy="293.24" r="0.45" fill="#c8102e" opacity="0.8"/>
<circle cx="94.04" cy="296.05" r="0.45" fill="#b03050" opacity="0.8"/>
<circle cx="90.69" cy="289.26" r="0.45" fill="#c8102e" opacity="0.8"/>
<circle cx="92.97" cy="290.52" r="0.45" fill="#c8102e" opacity="0.8"/>
<circle cx="97.20" cy="292.53" r="0.45" fill="#b03050" opacity="0.8"/>
<circle cx="84.34" cy="287.97" r="0.45" fill="#9fd6f2" opacity="0.8"/>
<circle cx="89.80" cy="293.78" r="0.45" fill="#9fd6f2" opacity="0.8"/>
<ellipse cx="94.8" cy="288.00" rx="1.1" ry="2.4" transform="rotate(20 94.8 288.00)" fill="#c8102e"/>
<rect x="43.1" y="272.0" width="71.70" height="70.40" fill="none" stroke="#111" stroke-width="1.3"/>
<rect x="50.9" y="314.60" width="7.3" height="7.3" fill="#c8102e"/>
<rect x="50.9" y="326.90" width="7.3" height="7.3" fill="#29a9e1"/>
<text x="62.40" y="321.40" font-size="7.9" text-anchor="start" font-weight="normal" font-style="normal" fill="#161414" textLength="29.9" lengthAdjust="spacingAndGlyphs" >CD79B<tspan font-size="5.6" dy="-2.7">WT</tspan></text>
<text x="62.40" y="333.30" font-size="7.9" text-anchor="start" font-weight="normal" font-style="normal" fill="#161414" textLength="40.2" lengthAdjust="spacingAndGlyphs" >CD79B<tspan font-size="5.6" dy="-2.7">Y196H</tspan></text>
<text x="37.80" y="280.90" font-size="8.0" text-anchor="end" font-weight="normal" font-style="normal" fill="#161414" >10<tspan font-size="5.6" dy="-2.7">5</tspan></text>
<text x="37.80" y="297.40" font-size="8.0" text-anchor="end" font-weight="normal" font-style="normal" fill="#161414" >10<tspan font-size="5.6" dy="-2.7">4</tspan></text>
<text x="37.80" y="316.20" font-size="8.0" text-anchor="end" font-weight="normal" font-style="normal" fill="#161414" >10<tspan font-size="5.6" dy="-2.7">3</tspan></text>
<text x="37.80" y="328.20" font-size="8.0" text-anchor="end" font-weight="normal" font-style="normal" fill="#161414" >0</text>
<text x="37.80" y="340.60" font-size="8.0" text-anchor="end" font-weight="normal" font-style="normal" fill="#161414" >−10<tspan font-size="5.6" dy="-2.7">3</tspan></text>
<text x="44.70" y="354.40" font-size="8.0" text-anchor="middle" font-weight="normal" font-style="normal" fill="#161414" >−10<tspan font-size="5.6" dy="-2.7">3</tspan></text>
<text x="57.20" y="354.40" font-size="8.0" text-anchor="middle" font-weight="normal" font-style="normal" fill="#161414" >0</text>
<text x="70.00" y="354.40" font-size="8.0" text-anchor="middle" font-weight="normal" font-style="normal" fill="#161414" >10<tspan font-size="5.6" dy="-2.7">3</tspan></text>
<text x="86.80" y="354.40" font-size="8.0" text-anchor="middle" font-weight="normal" font-style="normal" fill="#161414" >10<tspan font-size="5.6" dy="-2.7">4</tspan></text>
<text x="101.10" y="354.40" font-size="8.0" text-anchor="middle" font-weight="normal" font-style="normal" fill="#161414" >10<tspan font-size="5.6" dy="-2.7">5</tspan></text>
<text x="79.20" y="366.20" font-size="8.4" text-anchor="middle" font-weight="normal" font-style="normal" fill="#161414" textLength="13" lengthAdjust="spacingAndGlyphs" >GFP</text>
<text transform="translate(14.5,307.80) rotate(-90)" font-size="8.6" text-anchor="middle" fill="#161414" textLength="22.8" lengthAdjust="spacingAndGlyphs">IgM-PE</text>
<line x1="41.30" y1="400.23" x2="43.10" y2="400.23" stroke="#111" stroke-width="0.75"/>
<line x1="41.30" y1="397.33" x2="43.10" y2="397.33" stroke="#111" stroke-width="0.75"/>
<line x1="41.30" y1="395.27" x2="43.10" y2="395.27" stroke="#111" stroke-width="0.75"/>
<line x1="41.30" y1="393.67" x2="43.10" y2="393.67" stroke="#111" stroke-width="0.75"/>
<line x1="41.30" y1="392.36" x2="43.10" y2="392.36" stroke="#111" stroke-width="0.75"/>
<line x1="41.30" y1="391.26" x2="43.10" y2="391.26" stroke="#111" stroke-width="0.75"/>
<line x1="41.30" y1="390.30" x2="43.10" y2="390.30" stroke="#111" stroke-width="0.75"/>
<line x1="41.30" y1="389.45" x2="43.10" y2="389.45" stroke="#111" stroke-width="0.75"/>
<line x1="41.30" y1="418.34" x2="43.10" y2="418.34" stroke="#111" stroke-width="0.75"/>
<line x1="41.30" y1="415.03" x2="43.10" y2="415.03" stroke="#111" stroke-width="0.75"/>
<line x1="41.30" y1="412.68" x2="43.10" y2="412.68" stroke="#111" stroke-width="0.75"/>
<line x1="41.30" y1="410.86" x2="43.10" y2="410.86" stroke="#111" stroke-width="0.75"/>
<line x1="41.30" y1="409.37" x2="43.10" y2="409.37" stroke="#111" stroke-width="0.75"/>
<line x1="41.30" y1="408.11" x2="43.10" y2="408.11" stroke="#111" stroke-width="0.75"/>
<line x1="41.30" y1="407.02" x2="43.10" y2="407.02" stroke="#111" stroke-width="0.75"/>
<line x1="41.30" y1="406.06" x2="43.10" y2="406.06" stroke="#111" stroke-width="0.75"/>
<line x1="41.30" y1="383.50" x2="43.10" y2="383.50" stroke="#111" stroke-width="0.75"/>
<line x1="41.30" y1="385.50" x2="43.10" y2="385.50" stroke="#111" stroke-width="0.75"/>
<line x1="41.30" y1="426.00" x2="43.10" y2="426.00" stroke="#111" stroke-width="0.75"/>
<line x1="41.30" y1="428.50" x2="43.10" y2="428.50" stroke="#111" stroke-width="0.75"/>
<line x1="41.30" y1="431.00" x2="43.10" y2="431.00" stroke="#111" stroke-width="0.75"/>
<line x1="41.30" y1="433.50" x2="43.10" y2="433.50" stroke="#111" stroke-width="0.75"/>
<line x1="41.30" y1="436.00" x2="43.10" y2="436.00" stroke="#111" stroke-width="0.75"/>
<line x1="41.30" y1="438.50" x2="43.10" y2="438.50" stroke="#111" stroke-width="0.75"/>
<line x1="41.30" y1="441.00" x2="43.10" y2="441.00" stroke="#111" stroke-width="0.75"/>
<line x1="41.30" y1="443.50" x2="43.10" y2="443.50" stroke="#111" stroke-width="0.75"/>
<line x1="41.30" y1="446.00" x2="43.10" y2="446.00" stroke="#111" stroke-width="0.75"/>
<line x1="41.30" y1="448.40" x2="43.10" y2="448.40" stroke="#111" stroke-width="0.75"/>
<line x1="41.30" y1="450.50" x2="43.10" y2="450.50" stroke="#111" stroke-width="0.75"/>
<line x1="40.10" y1="388.70" x2="43.10" y2="388.70" stroke="#111" stroke-width="0.9"/>
<line x1="40.10" y1="405.20" x2="43.10" y2="405.20" stroke="#111" stroke-width="0.9"/>
<line x1="40.10" y1="424.00" x2="43.10" y2="424.00" stroke="#111" stroke-width="0.9"/>
<line x1="40.10" y1="436.00" x2="43.10" y2="436.00" stroke="#111" stroke-width="0.9"/>
<line x1="40.10" y1="448.40" x2="43.10" y2="448.40" stroke="#111" stroke-width="0.9"/>
<rect x="41.300000000000004" y="434.8" width="1.8" height="2.4" fill="#111"/>
<line x1="44.70" y1="452.40" x2="44.70" y2="455.40" stroke="#111" stroke-width="0.9"/>
<line x1="57.20" y1="452.40" x2="57.20" y2="455.40" stroke="#111" stroke-width="0.9"/>
<line x1="69.10" y1="452.40" x2="69.10" y2="455.40" stroke="#111" stroke-width="0.9"/>
<line x1="86.80" y1="452.40" x2="86.80" y2="455.40" stroke="#111" stroke-width="0.9"/>
<line x1="101.10" y1="452.40" x2="101.10" y2="455.40" stroke="#111" stroke-width="0.9"/>
<line x1="74.43" y1="452.40" x2="74.43" y2="454.20" stroke="#111" stroke-width="0.75"/>
<line x1="77.55" y1="452.40" x2="77.55" y2="454.20" stroke="#111" stroke-width="0.75"/>
<line x1="79.76" y1="452.40" x2="79.76" y2="454.20" stroke="#111" stroke-width="0.75"/>
<line x1="81.47" y1="452.40" x2="81.47" y2="454.20" stroke="#111" stroke-width="0.75"/>
<line x1="82.87" y1="452.40" x2="82.87" y2="454.20" stroke="#111" stroke-width="0.75"/>
<line x1="84.06" y1="452.40" x2="84.06" y2="454.20" stroke="#111" stroke-width="0.75"/>
<line x1="85.08" y1="452.40" x2="85.08" y2="454.20" stroke="#111" stroke-width="0.75"/>
<line x1="85.99" y1="452.40" x2="85.99" y2="454.20" stroke="#111" stroke-width="0.75"/>
<line x1="91.10" y1="452.40" x2="91.10" y2="454.20" stroke="#111" stroke-width="0.75"/>
<line x1="93.62" y1="452.40" x2="93.62" y2="454.20" stroke="#111" stroke-width="0.75"/>
<line x1="95.41" y1="452.40" x2="95.41" y2="454.20" stroke="#111" stroke-width="0.75"/>
<line x1="96.80" y1="452.40" x2="96.80" y2="454.20" stroke="#111" stroke-width="0.75"/>
<line x1="97.93" y1="452.40" x2="97.93" y2="454.20" stroke="#111" stroke-width="0.75"/>
<line x1="98.88" y1="452.40" x2="98.88" y2="454.20" stroke="#111" stroke-width="0.75"/>
<line x1="99.71" y1="452.40" x2="99.71" y2="454.20" stroke="#111" stroke-width="0.75"/>
<line x1="100.45" y1="452.40" x2="100.45" y2="454.20" stroke="#111" stroke-width="0.75"/>
<line x1="47.00" y1="452.40" x2="47.00" y2="454.20" stroke="#111" stroke-width="0.75"/>
<line x1="49.50" y1="452.40" x2="49.50" y2="454.20" stroke="#111" stroke-width="0.75"/>
<line x1="52.00" y1="452.40" x2="52.00" y2="454.20" stroke="#111" stroke-width="0.75"/>
<line x1="54.50" y1="452.40" x2="54.50" y2="454.20" stroke="#111" stroke-width="0.75"/>
<line x1="59.50" y1="452.40" x2="59.50" y2="454.20" stroke="#111" stroke-width="0.75"/>
<line x1="62.00" y1="452.40" x2="62.00" y2="454.20" stroke="#111" stroke-width="0.75"/>
<line x1="64.50" y1="452.40" x2="64.50" y2="454.20" stroke="#111" stroke-width="0.75"/>
<line x1="67.00" y1="452.40" x2="67.00" y2="454.20" stroke="#111" stroke-width="0.75"/>
<line x1="103.50" y1="452.40" x2="103.50" y2="454.20" stroke="#111" stroke-width="0.75"/>
<line x1="106.00" y1="452.40" x2="106.00" y2="454.20" stroke="#111" stroke-width="0.75"/>
<line x1="108.50" y1="452.40" x2="108.50" y2="454.20" stroke="#111" stroke-width="0.75"/>
<line x1="111.00" y1="452.40" x2="111.00" y2="454.20" stroke="#111" stroke-width="0.75"/>
<line x1="113.30" y1="452.40" x2="113.30" y2="454.20" stroke="#111" stroke-width="0.75"/>
<rect x="56.2" y="452.4" width="2.4" height="1.8" fill="#111"/>
<path d="M82.50 399.00 C83.25 397.42 85.08 396.50 86.50 396.00 C87.92 395.50 89.33 395.17 91.00 396.00 C92.67 396.83 95.33 399.08 96.50 401.00 C97.67 402.92 98.15 405.58 98.00 407.50 C97.85 409.42 96.93 411.33 95.60 412.50 C94.27 413.67 91.77 414.58 90.00 414.50 C88.23 414.42 86.33 413.50 85.00 412.00 C83.67 410.50 82.42 407.67 82.00 405.50 C81.58 403.33 81.75 400.58 82.50 399.00Z" fill="#e8879a" stroke="#e8879a" stroke-width="2.40" stroke-linejoin="round" opacity="0.12"/>
<path d="M82.50 399.00 C83.25 397.42 85.08 396.50 86.50 396.00 C87.92 395.50 89.33 395.17 91.00 396.00 C92.67 396.83 95.33 399.08 96.50 401.00 C97.67 402.92 98.15 405.58 98.00 407.50 C97.85 409.42 96.93 411.33 95.60 412.50 C94.27 413.67 91.77 414.58 90.00 414.50 C88.23 414.42 86.33 413.50 85.00 412.00 C83.67 410.50 82.42 407.67 82.00 405.50 C81.58 403.33 81.75 400.58 82.50 399.00Z" fill="#e8879a" stroke="#e8879a" stroke-width="1.60" stroke-linejoin="round" opacity="0.18"/>
<path d="M82.50 399.00 C83.25 397.42 85.08 396.50 86.50 396.00 C87.92 395.50 89.33 395.17 91.00 396.00 C92.67 396.83 95.33 399.08 96.50 401.00 C97.67 402.92 98.15 405.58 98.00 407.50 C97.85 409.42 96.93 411.33 95.60 412.50 C94.27 413.67 91.77 414.58 90.00 414.50 C88.23 414.42 86.33 413.50 85.00 412.00 C83.67 410.50 82.42 407.67 82.00 405.50 C81.58 403.33 81.75 400.58 82.50 399.00Z" fill="#e8879a" stroke="#e8879a" stroke-width="0.80" stroke-linejoin="round" opacity="0.25"/>
<path d="M82.50 399.00 C83.25 397.42 85.08 396.50 86.50 396.00 C87.92 395.50 89.33 395.17 91.00 396.00 C92.67 396.83 95.33 399.08 96.50 401.00 C97.67 402.92 98.15 405.58 98.00 407.50 C97.85 409.42 96.93 411.33 95.60 412.50 C94.27 413.67 91.77 414.58 90.00 414.50 C88.23 414.42 86.33 413.50 85.00 412.00 C83.67 410.50 82.42 407.67 82.00 405.50 C81.58 403.33 81.75 400.58 82.50 399.00Z" fill="#e5798f" opacity="0.9"/>
<path d="M83.70 400.20 C84.30 398.93 85.77 398.20 86.90 397.80 C88.03 397.40 89.17 397.13 90.50 397.80 C91.83 398.47 93.97 400.27 94.90 401.80 C95.83 403.33 96.22 405.47 96.10 407.00 C95.98 408.53 95.25 410.07 94.18 411.00 C93.11 411.93 91.11 412.67 89.70 412.60 C88.29 412.53 86.77 411.80 85.70 410.60 C84.63 409.40 83.63 407.13 83.30 405.40 C82.97 403.67 83.10 401.47 83.70 400.20Z" fill="#d94a68" opacity="0.45"/>
<path d="M96.60 387.80 C97.98 387.98 99.77 388.33 100.80 389.50 C101.83 390.67 102.68 392.97 102.80 394.80 C102.92 396.63 102.33 398.80 101.50 400.50 C100.67 402.20 99.22 403.83 97.80 405.00 C96.38 406.17 94.55 407.17 93.00 407.50 C91.45 407.83 89.92 407.58 88.50 407.00 C87.08 406.42 85.42 405.42 84.50 404.00 C83.58 402.58 82.95 400.25 83.00 398.50 C83.05 396.75 83.88 394.88 84.80 393.50 C85.72 392.12 87.22 391.05 88.50 390.20 C89.78 389.35 91.15 388.80 92.50 388.40 C93.85 388.00 95.22 387.62 96.60 387.80Z" fill="#55bb58" stroke="#55bb58" stroke-width="2.40" stroke-linejoin="round" opacity="0.12"/>
<path d="M96.60 387.80 C97.98 387.98 99.77 388.33 100.80 389.50 C101.83 390.67 102.68 392.97 102.80 394.80 C102.92 396.63 102.33 398.80 101.50 400.50 C100.67 402.20 99.22 403.83 97.80 405.00 C96.38 406.17 94.55 407.17 93.00 407.50 C91.45 407.83 89.92 407.58 88.50 407.00 C87.08 406.42 85.42 405.42 84.50 404.00 C83.58 402.58 82.95 400.25 83.00 398.50 C83.05 396.75 83.88 394.88 84.80 393.50 C85.72 392.12 87.22 391.05 88.50 390.20 C89.78 389.35 91.15 388.80 92.50 388.40 C93.85 388.00 95.22 387.62 96.60 387.80Z" fill="#55bb58" stroke="#55bb58" stroke-width="1.60" stroke-linejoin="round" opacity="0.18"/>
<path d="M96.60 387.80 C97.98 387.98 99.77 388.33 100.80 389.50 C101.83 390.67 102.68 392.97 102.80 394.80 C102.92 396.63 102.33 398.80 101.50 400.50 C100.67 402.20 99.22 403.83 97.80 405.00 C96.38 406.17 94.55 407.17 93.00 407.50 C91.45 407.83 89.92 407.58 88.50 407.00 C87.08 406.42 85.42 405.42 84.50 404.00 C83.58 402.58 82.95 400.25 83.00 398.50 C83.05 396.75 83.88 394.88 84.80 393.50 C85.72 392.12 87.22 391.05 88.50 390.20 C89.78 389.35 91.15 388.80 92.50 388.40 C93.85 388.00 95.22 387.62 96.60 387.80Z" fill="#55bb58" stroke="#55bb58" stroke-width="0.80" stroke-linejoin="round" opacity="0.25"/>
<path d="M96.60 387.80 C97.98 387.98 99.77 388.33 100.80 389.50 C101.83 390.67 102.68 392.97 102.80 394.80 C102.92 396.63 102.33 398.80 101.50 400.50 C100.67 402.20 99.22 403.83 97.80 405.00 C96.38 406.17 94.55 407.17 93.00 407.50 C91.45 407.83 89.92 407.58 88.50 407.00 C87.08 406.42 85.42 405.42 84.50 404.00 C83.58 402.58 82.95 400.25 83.00 398.50 C83.05 396.75 83.88 394.88 84.80 393.50 C85.72 392.12 87.22 391.05 88.50 390.20 C89.78 389.35 91.15 388.80 92.50 388.40 C93.85 388.00 95.22 387.62 96.60 387.80Z" fill="#55bb58" opacity="0.78"/>
<path d="M93.96 393.88 C94.79 393.99 95.86 394.20 96.48 394.90 C97.10 395.60 97.61 396.98 97.68 398.08 C97.75 399.18 97.40 400.48 96.90 401.50 C96.40 402.52 95.53 403.50 94.68 404.20 C93.83 404.90 92.73 405.50 91.80 405.70 C90.87 405.90 89.95 405.75 89.10 405.40 C88.25 405.05 87.25 404.45 86.70 403.60 C86.15 402.75 85.77 401.35 85.80 400.30 C85.83 399.25 86.33 398.13 86.88 397.30 C87.43 396.47 88.33 395.83 89.10 395.32 C89.87 394.81 90.69 394.48 91.50 394.24 C92.31 394.00 93.13 393.77 93.96 393.88Z" fill="#8a5a8a" opacity="0.22"/>
<circle cx="87.16" cy="403.93" r="0.45" fill="#b03050" opacity="0.8"/>
<circle cx="92.15" cy="405.21" r="0.45" fill="#a8dca8" opacity="0.8"/>
<circle cx="86.35" cy="398.40" r="0.45" fill="#a8dca8" opacity="0.8"/>
<circle cx="84.46" cy="399.84" r="0.45" fill="#a8dca8" opacity="0.8"/>
<circle cx="93.68" cy="399.61" r="0.45" fill="#a8dca8" opacity="0.8"/>
<circle cx="88.62" cy="406.53" r="0.45" fill="#c8102e" opacity="0.8"/>
<circle cx="86.33" cy="398.14" r="0.45" fill="#b03050" opacity="0.8"/>
<circle cx="84.58" cy="398.87" r="0.45" fill="#a8dca8" opacity="0.8"/>
<circle cx="91.20" cy="398.48" r="0.45" fill="#b03050" opacity="0.8"/>
<circle cx="85.45" cy="401.76" r="0.45" fill="#b03050" opacity="0.8"/>
<circle cx="96.25" cy="399.52" r="0.45" fill="#a8dca8" opacity="0.8"/>
<circle cx="85.52" cy="402.29" r="0.45" fill="#b03050" opacity="0.8"/>
<circle cx="85.80" cy="397.83" r="0.45" fill="#b03050" opacity="0.8"/>
<circle cx="94.83" cy="404.16" r="0.45" fill="#b03050" opacity="0.8"/>
<circle cx="87.29" cy="400.04" r="0.45" fill="#b03050" opacity="0.8"/>
<circle cx="91.96" cy="398.31" r="0.45" fill="#a8dca8" opacity="0.8"/>
<circle cx="87.75" cy="399.18" r="0.45" fill="#a8dca8" opacity="0.8"/>
<circle cx="93.17" cy="399.50" r="0.45" fill="#b03050" opacity="0.8"/>
<circle cx="84.58" cy="405.03" r="0.45" fill="#c8102e" opacity="0.8"/>
<circle cx="95.93" cy="397.08" r="0.45" fill="#a8dca8" opacity="0.8"/>
<circle cx="97.93" cy="401.75" r="0.45" fill="#b03050" opacity="0.8"/>
<circle cx="92.26" cy="405.33" r="0.45" fill="#b03050" opacity="0.8"/>
<circle cx="94.70" cy="401.77" r="0.45" fill="#c8102e" opacity="0.8"/>
<circle cx="95.04" cy="402.19" r="0.45" fill="#b03050" opacity="0.8"/>
<circle cx="91.76" cy="404.69" r="0.45" fill="#a8dca8" opacity="0.8"/>
<circle cx="95.96" cy="404.26" r="0.45" fill="#a8dca8" opacity="0.8"/>
<circle cx="91.48" cy="403.93" r="0.45" fill="#c8102e" opacity="0.8"/>
<circle cx="87.39" cy="402.99" r="0.45" fill="#b03050" opacity="0.8"/>
<circle cx="93.98" cy="406.10" r="0.45" fill="#a8dca8" opacity="0.8"/>
<circle cx="89.99" cy="399.43" r="0.45" fill="#a8dca8" opacity="0.8"/>
<circle cx="84.73" cy="403.46" r="0.45" fill="#a8dca8" opacity="0.8"/>
<circle cx="87.33" cy="404.69" r="0.45" fill="#a8dca8" opacity="0.8"/>
<circle cx="88.86" cy="395.44" r="0.45" fill="#b03050" opacity="0.8"/>
<circle cx="88.12" cy="400.01" r="0.45" fill="#a8dca8" opacity="0.8"/>
<ellipse cx="94.8" cy="398.00" rx="1.1" ry="2.4" transform="rotate(20 94.8 398.00)" fill="#c8102e"/>
<rect x="43.1" y="382.0" width="71.70" height="70.40" fill="none" stroke="#111" stroke-width="1.3"/>
<rect x="50.9" y="424.60" width="7.3" height="7.3" fill="#c8102e"/>
<rect x="50.9" y="436.90" width="7.3" height="7.3" fill="#3bb149"/>
<text x="62.40" y="431.40" font-size="7.9" text-anchor="start" font-weight="normal" font-style="normal" fill="#161414" textLength="29.9" lengthAdjust="spacingAndGlyphs" >CD79B<tspan font-size="5.6" dy="-2.7">WT</tspan></text>
<text x="62.40" y="443.30" font-size="7.9" text-anchor="start" font-weight="normal" font-style="normal" fill="#161414" textLength="27.8" lengthAdjust="spacingAndGlyphs" >CD79B<tspan font-size="5.6" dy="-2.7">IR</tspan></text>
<text x="37.80" y="390.90" font-size="8.0" text-anchor="end" font-weight="normal" font-style="normal" fill="#161414" >10<tspan font-size="5.6" dy="-2.7">5</tspan></text>
<text x="37.80" y="407.40" font-size="8.0" text-anchor="end" font-weight="normal" font-style="normal" fill="#161414" >10<tspan font-size="5.6" dy="-2.7">4</tspan></text>
<text x="37.80" y="426.20" font-size="8.0" text-anchor="end" font-weight="normal" font-style="normal" fill="#161414" >10<tspan font-size="5.6" dy="-2.7">3</tspan></text>
<text x="37.80" y="438.20" font-size="8.0" text-anchor="end" font-weight="normal" font-style="normal" fill="#161414" >0</text>
<text x="37.80" y="450.60" font-size="8.0" text-anchor="end" font-weight="normal" font-style="normal" fill="#161414" >−10<tspan font-size="5.6" dy="-2.7">3</tspan></text>
<text x="44.70" y="464.40" font-size="8.0" text-anchor="middle" font-weight="normal" font-style="normal" fill="#161414" >−10<tspan font-size="5.6" dy="-2.7">3</tspan></text>
<text x="57.20" y="464.40" font-size="8.0" text-anchor="middle" font-weight="normal" font-style="normal" fill="#161414" >0</text>
<text x="70.00" y="464.40" font-size="8.0" text-anchor="middle" font-weight="normal" font-style="normal" fill="#161414" >10<tspan font-size="5.6" dy="-2.7">3</tspan></text>
<text x="86.80" y="464.40" font-size="8.0" text-anchor="middle" font-weight="normal" font-style="normal" fill="#161414" >10<tspan font-size="5.6" dy="-2.7">4</tspan></text>
<text x="101.10" y="464.40" font-size="8.0" text-anchor="middle" font-weight="normal" font-style="normal" fill="#161414" >10<tspan font-size="5.6" dy="-2.7">5</tspan></text>
<text x="79.20" y="476.20" font-size="8.4" text-anchor="middle" font-weight="normal" font-style="normal" fill="#161414" textLength="13" lengthAdjust="spacingAndGlyphs" >GFP</text>
<text transform="translate(14.5,417.80) rotate(-90)" font-size="8.6" text-anchor="middle" fill="#161414" textLength="22.8" lengthAdjust="spacingAndGlyphs">IgM-PE</text>
</g>
<g id="D">
<text x="124.40" y="259.90" font-size="11.2" text-anchor="start" font-weight="bold" font-style="normal" fill="#000" >D</text>
<line x1="151.40" y1="342.50" x2="154.20" y2="342.50" stroke="#111" stroke-width="0.9"/>
<line x1="152.60" y1="339.19" x2="154.20" y2="339.19" stroke="#111" stroke-width="0.75"/>
<line x1="152.60" y1="335.88" x2="154.20" y2="335.88" stroke="#111" stroke-width="0.75"/>
<line x1="152.60" y1="332.57" x2="154.20" y2="332.57" stroke="#111" stroke-width="0.75"/>
<text x="148.60" y="345.10" font-size="8.4" text-anchor="end" font-weight="normal" font-style="normal" fill="#161414" >0</text>
<line x1="151.40" y1="329.26" x2="154.20" y2="329.26" stroke="#111" stroke-width="0.9"/>
<line x1="152.60" y1="325.95" x2="154.20" y2="325.95" stroke="#111" stroke-width="0.75"/>
<line x1="152.60" y1="322.64" x2="154.20" y2="322.64" stroke="#111" stroke-width="0.75"/>
<line x1="152.60" y1="319.33" x2="154.20" y2="319.33" stroke="#111" stroke-width="0.75"/>
<text x="148.60" y="331.86" font-size="8.4" text-anchor="end" font-weight="normal" font-style="normal" fill="#161414" >20</text>
<line x1="151.40" y1="316.02" x2="154.20" y2="316.02" stroke="#111" stroke-width="0.9"/>
<line x1="152.60" y1="312.71" x2="154.20" y2="312.71" stroke="#111" stroke-width="0.75"/>
<line x1="152.60" y1="309.40" x2="154.20" y2="309.40" stroke="#111" stroke-width="0.75"/>
<line x1="152.60" y1="306.09" x2="154.20" y2="306.09" stroke="#111" stroke-width="0.75"/>
<text x="148.60" y="318.62" font-size="8.4" text-anchor="end" font-weight="normal" font-style="normal" fill="#161414" >40</text>
<line x1="151.40" y1="302.78" x2="154.20" y2="302.78" stroke="#111" stroke-width="0.9"/>
<line x1="152.60" y1="299.47" x2="154.20" y2="299.47" stroke="#111" stroke-width="0.75"/>
<line x1="152.60" y1="296.16" x2="154.20" y2="296.16" stroke="#111" stroke-width="0.75"/>
<line x1="152.60" y1="292.85" x2="154.20" y2="292.85" stroke="#111" stroke-width="0.75"/>
<text x="148.60" y="305.38" font-size="8.4" text-anchor="end" font-weight="normal" font-style="normal" fill="#161414" >60</text>
<line x1="151.40" y1="289.54" x2="154.20" y2="289.54" stroke="#111" stroke-width="0.9"/>
<line x1="152.60" y1="286.23" x2="154.20" y2="286.23" stroke="#111" stroke-width="0.75"/>
<line x1="152.60" y1="282.92" x2="154.20" y2="282.92" stroke="#111" stroke-width="0.75"/>
<line x1="152.60" y1="279.61" x2="154.20" y2="279.61" stroke="#111" stroke-width="0.75"/>
<text x="148.60" y="292.14" font-size="8.4" text-anchor="end" font-weight="normal" font-style="normal" fill="#161414" >80</text>
<line x1="151.40" y1="276.30" x2="154.20" y2="276.30" stroke="#111" stroke-width="0.9"/>
<text x="148.60" y="278.90" font-size="8.4" text-anchor="end" font-weight="normal" font-style="normal" fill="#161414" >100</text>
<line x1="155.10" y1="342.60" x2="155.10" y2="345.40" stroke="#111" stroke-width="0.9"/>
<line x1="169.90" y1="342.60" x2="169.90" y2="345.40" stroke="#111" stroke-width="0.9"/>
<line x1="182.70" y1="342.60" x2="182.70" y2="345.40" stroke="#111" stroke-width="0.9"/>
<line x1="201.20" y1="342.60" x2="201.20" y2="345.40" stroke="#111" stroke-width="0.9"/>
<line x1="219.00" y1="342.60" x2="219.00" y2="345.40" stroke="#111" stroke-width="0.9"/>
<line x1="188.27" y1="342.60" x2="188.27" y2="344.20" stroke="#111" stroke-width="0.75"/>
<line x1="191.53" y1="342.60" x2="191.53" y2="344.20" stroke="#111" stroke-width="0.75"/>
<line x1="193.84" y1="342.60" x2="193.84" y2="344.20" stroke="#111" stroke-width="0.75"/>
<line x1="195.63" y1="342.60" x2="195.63" y2="344.20" stroke="#111" stroke-width="0.75"/>
<line x1="197.10" y1="342.60" x2="197.10" y2="344.20" stroke="#111" stroke-width="0.75"/>
<line x1="198.33" y1="342.60" x2="198.33" y2="344.20" stroke="#111" stroke-width="0.75"/>
<line x1="199.41" y1="342.60" x2="199.41" y2="344.20" stroke="#111" stroke-width="0.75"/>
<line x1="200.35" y1="342.60" x2="200.35" y2="344.20" stroke="#111" stroke-width="0.75"/>
<line x1="206.56" y1="342.60" x2="206.56" y2="344.20" stroke="#111" stroke-width="0.75"/>
<line x1="209.69" y1="342.60" x2="209.69" y2="344.20" stroke="#111" stroke-width="0.75"/>
<line x1="211.92" y1="342.60" x2="211.92" y2="344.20" stroke="#111" stroke-width="0.75"/>
<line x1="213.64" y1="342.60" x2="213.64" y2="344.20" stroke="#111" stroke-width="0.75"/>
<line x1="215.05" y1="342.60" x2="215.05" y2="344.20" stroke="#111" stroke-width="0.75"/>
<line x1="216.24" y1="342.60" x2="216.24" y2="344.20" stroke="#111" stroke-width="0.75"/>
<line x1="217.28" y1="342.60" x2="217.28" y2="344.20" stroke="#111" stroke-width="0.75"/>
<line x1="218.19" y1="342.60" x2="218.19" y2="344.20" stroke="#111" stroke-width="0.75"/>
<line x1="157.70" y1="342.60" x2="157.70" y2="344.20" stroke="#111" stroke-width="0.75"/>
<line x1="160.20" y1="342.60" x2="160.20" y2="344.20" stroke="#111" stroke-width="0.75"/>
<line x1="162.70" y1="342.60" x2="162.70" y2="344.20" stroke="#111" stroke-width="0.75"/>
<line x1="165.20" y1="342.60" x2="165.20" y2="344.20" stroke="#111" stroke-width="0.75"/>
<line x1="167.50" y1="342.60" x2="167.50" y2="344.20" stroke="#111" stroke-width="0.75"/>
<line x1="172.20" y1="342.60" x2="172.20" y2="344.20" stroke="#111" stroke-width="0.75"/>
<line x1="174.70" y1="342.60" x2="174.70" y2="344.20" stroke="#111" stroke-width="0.75"/>
<line x1="177.20" y1="342.60" x2="177.20" y2="344.20" stroke="#111" stroke-width="0.75"/>
<line x1="179.20" y1="342.60" x2="179.20" y2="344.20" stroke="#111" stroke-width="0.75"/>
<line x1="219.70" y1="342.60" x2="219.70" y2="344.20" stroke="#111" stroke-width="0.75"/>
<line x1="222.20" y1="342.60" x2="222.20" y2="344.20" stroke="#111" stroke-width="0.75"/>
<line x1="224.20" y1="342.60" x2="224.20" y2="344.20" stroke="#111" stroke-width="0.75"/>
<rect x="168.70" y="342.6" width="2.4" height="1.8" fill="#111"/>
<path d="M154.80 342.50 L156.00 342.24 L156.00 342.24 L156.31 342.23 L156.67 342.22 L157.07 342.21 L157.52 342.20 L158.02 342.19 L158.54 342.17 L159.10 342.16 L159.69 342.15 L160.30 342.13 L160.93 342.12 L161.57 342.10 L162.23 342.09 L162.90 342.07 L163.56 342.05 L164.23 342.04 L164.90 342.02 L165.55 342.00 L166.19 341.98 L166.82 341.96 L167.42 341.94 L168.00 341.92 L168.56 341.90 L169.08 341.88 L169.56 341.86 L170.00 341.84 L170.84 341.79 L171.61 341.75 L172.31 341.71 L172.96 341.66 L173.56 341.61 L174.12 341.56 L174.65 341.51 L175.15 341.46 L175.62 341.39 L176.09 341.33 L176.54 341.26 L177.00 341.18 L177.72 341.05 L178.35 340.94 L178.90 340.83 L179.41 340.69 L179.91 340.49 L180.43 340.22 L181.00 339.85 L181.54 339.44 L182.11 338.96 L182.68 338.41 L183.26 337.82 L183.84 337.75 L184.41 336.45 L184.97 336.16 L185.50 335.00 L186.18 334.07 L186.85 334.37 L187.49 333.55 L188.12 330.81 L188.72 330.96 L189.30 329.82 L189.96 326.57 L190.59 325.84 L191.19 323.14 L191.76 322.00 L192.30 319.90 L192.93 319.02 L193.50 316.26 L194.05 313.98 L194.60 312.66 L195.15 309.80 L195.70 307.33 L196.25 305.86 L196.80 301.57 L197.37 298.98 L197.94 296.50 L198.52 294.02 L199.10 289.43 L199.69 287.59 L200.30 284.48 L200.88 281.87 L201.40 280.48 L202.20 278.35 L202.90 279.17 L203.65 278.60 L204.40 281.05 L205.15 284.02 L205.90 289.40 L206.65 296.83 L207.40 302.89 L208.15 308.87 L208.90 313.25 L209.65 319.79 L210.40 324.42 L211.15 329.94 L211.90 333.68 L212.60 336.98 L213.40 338.99 L213.93 339.90 L214.53 340.63 L215.14 341.22 L215.70 341.71 L216.40 342.14 L217.05 342.37 L217.50 342.50 L217.50 342.50 Z" fill="#e1e1e3" stroke="none"/>
<path d="M154.80 342.50 L156.00 342.24 L156.31 342.23 L156.67 342.22 L157.07 342.21 L157.52 342.20 L158.02 342.19 L158.54 342.17 L159.10 342.16 L159.69 342.15 L160.30 342.13 L160.93 342.12 L161.57 342.10 L162.23 342.09 L162.90 342.07 L163.56 342.05 L164.23 342.04 L164.90 342.02 L165.55 342.00 L166.19 341.98 L166.82 341.96 L167.42 341.94 L168.00 341.92 L168.56 341.90 L169.08 341.88 L169.56 341.86 L170.00 341.84 L170.84 341.79 L171.61 341.75 L172.31 341.71 L172.96 341.66 L173.56 341.61 L174.12 341.56 L174.65 341.51 L175.15 341.46 L175.62 341.39 L176.09 341.33 L176.54 341.26 L177.00 341.18 L177.72 341.05 L178.35 340.94 L178.90 340.83 L179.41 340.69 L179.91 340.49 L180.43 340.22 L181.00 339.85 L181.54 339.44 L182.11 338.96 L182.68 338.41 L183.26 337.82 L183.84 337.75 L184.41 336.45 L184.97 336.16 L185.50 335.00 L186.18 334.07 L186.85 334.37 L187.49 333.55 L188.12 330.81 L188.72 330.96 L189.30 329.82 L189.96 326.57 L190.59 325.84 L191.19 323.14 L191.76 322.00 L192.30 319.90 L192.93 319.02 L193.50 316.26 L194.05 313.98 L194.60 312.66 L195.15 309.80 L195.70 307.33 L196.25 305.86 L196.80 301.57 L197.37 298.98 L197.94 296.50 L198.52 294.02 L199.10 289.43 L199.69 287.59 L200.30 284.48 L200.88 281.87 L201.40 280.48 L202.20 278.35 L202.90 279.17 L203.65 278.60 L204.40 281.05 L205.15 284.02 L205.90 289.40 L206.65 296.83 L207.40 302.89 L208.15 308.87 L208.90 313.25 L209.65 319.79 L210.40 324.42 L211.15 329.94 L211.90 333.68 L212.60 336.98 L213.40 338.99 L213.93 339.90 L214.53 340.63 L215.14 341.22 L215.70 341.71 L216.40 342.14 L217.05 342.37 L217.50 342.50" fill="none" stroke="#a2a2a7" stroke-width="0.75"/>
<path d="M154.80 342.50 L156.00 341.97 L156.31 341.96 L156.69 341.95 L157.12 341.94 L157.59 341.93 L158.11 341.91 L158.67 341.90 L159.26 341.88 L159.88 341.86 L160.51 341.84 L161.16 341.83 L161.81 341.81 L162.47 341.79 L163.12 341.77 L163.77 341.75 L164.39 341.73 L165.00 341.71 L165.54 341.69 L166.10 341.67 L166.67 341.66 L167.26 341.64 L167.86 341.63 L168.46 341.61 L169.07 341.60 L169.68 341.58 L170.28 341.56 L170.88 341.55 L171.46 341.53 L172.04 341.50 L172.59 341.48 L173.13 341.45 L173.64 341.42 L174.12 341.39 L174.58 341.35 L175.00 341.31 L175.83 341.20 L176.51 341.08 L177.09 340.95 L177.59 340.80 L178.05 340.64 L178.50 340.48 L178.98 340.30 L179.50 340.12 L180.07 339.93 L180.64 339.74 L181.22 339.55 L181.79 339.34 L182.36 339.12 L182.92 338.88 L183.47 338.62 L184.00 338.33 L184.69 337.90 L185.37 337.41 L186.04 336.74 L186.67 336.50 L187.26 335.64 L187.80 335.91 L188.48 333.86 L189.05 333.08 L189.57 332.66 L190.10 332.89 L190.65 331.33 L191.20 330.95 L191.75 330.21 L192.30 327.57 L192.89 326.01 L193.49 326.33 L194.08 322.78 L194.60 321.49 L195.40 318.32 L196.10 314.69 L196.85 309.79 L197.60 305.98 L198.35 300.91 L199.10 296.48 L199.80 293.54 L200.60 288.71 L201.12 286.86 L201.71 285.70 L202.31 285.43 L202.90 285.74 L203.67 284.68 L204.42 283.52 L205.10 281.59 L205.87 284.17 L206.60 286.58 L207.20 287.90 L207.83 292.09 L208.40 294.47 L209.04 298.38 L209.60 303.04 L210.21 307.07 L210.80 311.19 L211.90 316.42 L212.62 320.45 L213.40 324.88 L214.10 330.36 L214.90 333.70 L215.40 334.85 L215.96 336.86 L216.56 338.63 L217.20 339.79 L217.76 340.44 L218.35 340.87 L218.97 341.15 L219.59 341.36 L220.20 341.57 L220.85 341.78 L221.54 341.93 L222.22 342.03 L222.79 342.11 L223.20 342.17 L223.20 342.50 Z" fill="rgba(212,50,78,0.5)" stroke="none"/>
<path d="M154.80 342.20 L156.00 341.97 L156.31 341.96 L156.69 341.95 L157.12 341.94 L157.59 341.93 L158.11 341.91 L158.67 341.90 L159.26 341.88 L159.88 341.86 L160.51 341.84 L161.16 341.83 L161.81 341.81 L162.47 341.79 L163.12 341.77 L163.77 341.75 L164.39 341.73 L165.00 341.71 L165.54 341.69 L166.10 341.67 L166.67 341.66 L167.26 341.64 L167.86 341.63 L168.46 341.61 L169.07 341.60 L169.68 341.58 L170.28 341.56 L170.88 341.55 L171.46 341.53 L172.04 341.50 L172.59 341.48 L173.13 341.45 L173.64 341.42 L174.12 341.39 L174.58 341.35 L175.00 341.31 L175.83 341.20 L176.51 341.08 L177.09 340.95 L177.59 340.80 L178.05 340.64 L178.50 340.48 L178.98 340.30 L179.50 340.12 L180.07 339.93 L180.64 339.74 L181.22 339.55 L181.79 339.34 L182.36 339.12 L182.92 338.88 L183.47 338.62 L184.00 338.33 L184.69 337.90 L185.37 337.41 L186.04 336.74 L186.67 336.50 L187.26 335.64 L187.80 335.91 L188.48 333.86 L189.05 333.08 L189.57 332.66 L190.10 332.89 L190.65 331.33 L191.20 330.95 L191.75 330.21 L192.30 327.57 L192.89 326.01 L193.49 326.33 L194.08 322.78 L194.60 321.49 L195.40 318.32 L196.10 314.69 L196.85 309.79 L197.60 305.98 L198.35 300.91 L199.10 296.48 L199.80 293.54 L200.60 288.71 L201.12 286.86 L201.71 285.70 L202.31 285.43 L202.90 285.74 L203.67 284.68 L204.42 283.52 L205.10 281.59 L205.87 284.17 L206.60 286.58 L207.20 287.90 L207.83 292.09 L208.40 294.47 L209.04 298.38 L209.60 303.04 L210.21 307.07 L210.80 311.19 L211.90 316.42 L212.62 320.45 L213.40 324.88 L214.10 330.36 L214.90 333.70 L215.40 334.85 L215.96 336.86 L216.56 338.63 L217.20 339.79 L217.76 340.44 L218.35 340.87 L218.97 341.15 L219.59 341.36 L220.20 341.57 L220.85 341.78 L221.54 341.93 L222.22 342.03 L222.79 342.11 L223.20 342.17" fill="none" stroke="#c8102e" stroke-width="1.2"/>
<rect x="154.2" y="272.2" width="70.60" height="70.40" fill="none" stroke="#111" stroke-width="1.3"/>
<text x="155.10" y="354.60" font-size="8.0" text-anchor="middle" font-weight="normal" font-style="normal" fill="#161414" >−10<tspan font-size="5.6" dy="-2.7">3</tspan></text>
<text x="169.90" y="354.60" font-size="8.0" text-anchor="middle" font-weight="normal" font-style="normal" fill="#161414" >0</text>
<text x="182.70" y="354.60" font-size="8.0" text-anchor="middle" font-weight="normal" font-style="normal" fill="#161414" >10<tspan font-size="5.6" dy="-2.7">3</tspan></text>
<text x="201.20" y="354.60" font-size="8.0" text-anchor="middle" font-weight="normal" font-style="normal" fill="#161414" >10<tspan font-size="5.6" dy="-2.7">4</tspan></text>
<text x="219.00" y="354.60" font-size="8.0" text-anchor="middle" font-weight="normal" font-style="normal" fill="#161414" >10<tspan font-size="5.6" dy="-2.7">5</tspan></text>
<text x="189.20" y="366.00" font-size="8.6" text-anchor="middle" font-weight="normal" font-style="normal" fill="#161414" textLength="23.2" lengthAdjust="spacingAndGlyphs" >IgM-PE</text>
<text transform="translate(131.10,307.50) rotate(-90)" font-size="8.9" text-anchor="middle" fill="#161414" textLength="81.7" lengthAdjust="spacingAndGlyphs">Density (norm. vs mode)</text>
<line x1="262.20" y1="342.50" x2="265.00" y2="342.50" stroke="#111" stroke-width="0.9"/>
<line x1="263.40" y1="339.19" x2="265.00" y2="339.19" stroke="#111" stroke-width="0.75"/>
<line x1="263.40" y1="335.88" x2="265.00" y2="335.88" stroke="#111" stroke-width="0.75"/>
<line x1="263.40" y1="332.57" x2="265.00" y2="332.57" stroke="#111" stroke-width="0.75"/>
<text x="259.40" y="345.10" font-size="8.4" text-anchor="end" font-weight="normal" font-style="normal" fill="#161414" >0</text>
<line x1="262.20" y1="329.26" x2="265.00" y2="329.26" stroke="#111" stroke-width="0.9"/>
<line x1="263.40" y1="325.95" x2="265.00" y2="325.95" stroke="#111" stroke-width="0.75"/>
<line x1="263.40" y1="322.64" x2="265.00" y2="322.64" stroke="#111" stroke-width="0.75"/>
<line x1="263.40" y1="319.33" x2="265.00" y2="319.33" stroke="#111" stroke-width="0.75"/>
<text x="259.40" y="331.86" font-size="8.4" text-anchor="end" font-weight="normal" font-style="normal" fill="#161414" >20</text>
<line x1="262.20" y1="316.02" x2="265.00" y2="316.02" stroke="#111" stroke-width="0.9"/>
<line x1="263.40" y1="312.71" x2="265.00" y2="312.71" stroke="#111" stroke-width="0.75"/>
<line x1="263.40" y1="309.40" x2="265.00" y2="309.40" stroke="#111" stroke-width="0.75"/>
<line x1="263.40" y1="306.09" x2="265.00" y2="306.09" stroke="#111" stroke-width="0.75"/>
<text x="259.40" y="318.62" font-size="8.4" text-anchor="end" font-weight="normal" font-style="normal" fill="#161414" >40</text>
<line x1="262.20" y1="302.78" x2="265.00" y2="302.78" stroke="#111" stroke-width="0.9"/>
<line x1="263.40" y1="299.47" x2="265.00" y2="299.47" stroke="#111" stroke-width="0.75"/>
<line x1="263.40" y1="296.16" x2="265.00" y2="296.16" stroke="#111" stroke-width="0.75"/>
<line x1="263.40" y1="292.85" x2="265.00" y2="292.85" stroke="#111" stroke-width="0.75"/>
<text x="259.40" y="305.38" font-size="8.4" text-anchor="end" font-weight="normal" font-style="normal" fill="#161414" >60</text>
<line x1="262.20" y1="289.54" x2="265.00" y2="289.54" stroke="#111" stroke-width="0.9"/>
<line x1="263.40" y1="286.23" x2="265.00" y2="286.23" stroke="#111" stroke-width="0.75"/>
<line x1="263.40" y1="282.92" x2="265.00" y2="282.92" stroke="#111" stroke-width="0.75"/>
<line x1="263.40" y1="279.61" x2="265.00" y2="279.61" stroke="#111" stroke-width="0.75"/>
<text x="259.40" y="292.14" font-size="8.4" text-anchor="end" font-weight="normal" font-style="normal" fill="#161414" >80</text>
<line x1="262.20" y1="276.30" x2="265.00" y2="276.30" stroke="#111" stroke-width="0.9"/>
<text x="259.40" y="278.90" font-size="8.4" text-anchor="end" font-weight="normal" font-style="normal" fill="#161414" >100</text>
<line x1="265.90" y1="342.60" x2="265.90" y2="345.40" stroke="#111" stroke-width="0.9"/>
<line x1="280.70" y1="342.60" x2="280.70" y2="345.40" stroke="#111" stroke-width="0.9"/>
<line x1="293.50" y1="342.60" x2="293.50" y2="345.40" stroke="#111" stroke-width="0.9"/>
<line x1="312.00" y1="342.60" x2="312.00" y2="345.40" stroke="#111" stroke-width="0.9"/>
<line x1="329.80" y1="342.60" x2="329.80" y2="345.40" stroke="#111" stroke-width="0.9"/>
<line x1="299.07" y1="342.60" x2="299.07" y2="344.20" stroke="#111" stroke-width="0.75"/>
<line x1="302.33" y1="342.60" x2="302.33" y2="344.20" stroke="#111" stroke-width="0.75"/>
<line x1="304.64" y1="342.60" x2="304.64" y2="344.20" stroke="#111" stroke-width="0.75"/>
<line x1="306.43" y1="342.60" x2="306.43" y2="344.20" stroke="#111" stroke-width="0.75"/>
<line x1="307.90" y1="342.60" x2="307.90" y2="344.20" stroke="#111" stroke-width="0.75"/>
<line x1="309.13" y1="342.60" x2="309.13" y2="344.20" stroke="#111" stroke-width="0.75"/>
<line x1="310.21" y1="342.60" x2="310.21" y2="344.20" stroke="#111" stroke-width="0.75"/>
<line x1="311.15" y1="342.60" x2="311.15" y2="344.20" stroke="#111" stroke-width="0.75"/>
<line x1="317.36" y1="342.60" x2="317.36" y2="344.20" stroke="#111" stroke-width="0.75"/>
<line x1="320.49" y1="342.60" x2="320.49" y2="344.20" stroke="#111" stroke-width="0.75"/>
<line x1="322.72" y1="342.60" x2="322.72" y2="344.20" stroke="#111" stroke-width="0.75"/>
<line x1="324.44" y1="342.60" x2="324.44" y2="344.20" stroke="#111" stroke-width="0.75"/>
<line x1="325.85" y1="342.60" x2="325.85" y2="344.20" stroke="#111" stroke-width="0.75"/>
<line x1="327.04" y1="342.60" x2="327.04" y2="344.20" stroke="#111" stroke-width="0.75"/>
<line x1="328.08" y1="342.60" x2="328.08" y2="344.20" stroke="#111" stroke-width="0.75"/>
<line x1="328.99" y1="342.60" x2="328.99" y2="344.20" stroke="#111" stroke-width="0.75"/>
<line x1="268.50" y1="342.60" x2="268.50" y2="344.20" stroke="#111" stroke-width="0.75"/>
<line x1="271.00" y1="342.60" x2="271.00" y2="344.20" stroke="#111" stroke-width="0.75"/>
<line x1="273.50" y1="342.60" x2="273.50" y2="344.20" stroke="#111" stroke-width="0.75"/>
<line x1="276.00" y1="342.60" x2="276.00" y2="344.20" stroke="#111" stroke-width="0.75"/>
<line x1="278.30" y1="342.60" x2="278.30" y2="344.20" stroke="#111" stroke-width="0.75"/>
<line x1="283.00" y1="342.60" x2="283.00" y2="344.20" stroke="#111" stroke-width="0.75"/>
<line x1="285.50" y1="342.60" x2="285.50" y2="344.20" stroke="#111" stroke-width="0.75"/>
<line x1="288.00" y1="342.60" x2="288.00" y2="344.20" stroke="#111" stroke-width="0.75"/>
<line x1="290.00" y1="342.60" x2="290.00" y2="344.20" stroke="#111" stroke-width="0.75"/>
<line x1="330.50" y1="342.60" x2="330.50" y2="344.20" stroke="#111" stroke-width="0.75"/>
<line x1="333.00" y1="342.60" x2="333.00" y2="344.20" stroke="#111" stroke-width="0.75"/>
<line x1="335.00" y1="342.60" x2="335.00" y2="344.20" stroke="#111" stroke-width="0.75"/>
<rect x="279.50" y="342.6" width="2.4" height="1.8" fill="#111"/>
<path d="M265.60 342.50 L268.00 342.17 L268.00 342.17 L268.32 342.16 L268.70 342.15 L269.15 342.13 L269.65 342.12 L270.19 342.10 L270.78 342.08 L271.39 342.06 L272.03 342.04 L272.69 342.02 L273.35 342.00 L274.01 341.98 L274.67 341.96 L275.31 341.93 L275.92 341.91 L276.51 341.89 L277.05 341.87 L277.55 341.86 L278.00 341.84 L278.78 341.81 L279.46 341.79 L280.06 341.77 L280.59 341.76 L281.09 341.74 L281.56 341.72 L282.02 341.68 L282.49 341.64 L283.00 341.57 L283.59 341.49 L284.16 341.39 L284.72 341.29 L285.28 341.17 L285.83 341.03 L286.39 340.88 L286.94 340.71 L287.50 340.51 L288.07 340.30 L288.66 340.05 L289.25 339.79 L289.84 339.51 L290.42 339.22 L290.98 338.91 L291.51 338.59 L292.00 338.26 L292.69 337.74 L293.30 337.21 L293.86 336.37 L294.42 335.47 L295.00 334.59 L295.62 333.42 L296.24 332.92 L296.86 331.51 L297.48 332.26 L298.10 330.06 L298.71 327.62 L299.31 326.69 L299.90 324.48 L300.50 324.38 L301.10 321.78 L301.71 320.31 L302.34 317.65 L302.96 315.46 L303.55 314.46 L304.10 311.79 L304.89 307.67 L305.59 302.17 L306.30 298.51 L306.87 296.96 L307.44 292.84 L308.02 291.65 L308.60 288.36 L309.18 287.54 L309.78 286.25 L310.35 283.04 L310.90 283.14 L311.59 281.29 L312.24 278.00 L312.80 277.23 L313.90 279.92 L314.90 284.59 L315.47 291.04 L316.10 297.24 L316.78 304.94 L317.60 310.25 L318.12 314.23 L318.70 317.14 L319.31 320.69 L319.90 325.12 L320.48 327.96 L321.06 331.21 L321.63 333.83 L322.20 336.21 L322.94 337.57 L323.66 339.26 L324.40 340.51 L324.98 341.14 L325.57 341.46 L326.16 341.65 L326.70 341.84 L327.40 342.13 L328.05 342.35 L328.50 342.50 L328.50 342.50 Z" fill="#e1e1e3" stroke="none"/>
<path d="M265.60 342.50 L268.00 342.17 L268.32 342.16 L268.70 342.15 L269.15 342.13 L269.65 342.12 L270.19 342.10 L270.78 342.08 L271.39 342.06 L272.03 342.04 L272.69 342.02 L273.35 342.00 L274.01 341.98 L274.67 341.96 L275.31 341.93 L275.92 341.91 L276.51 341.89 L277.05 341.87 L277.55 341.86 L278.00 341.84 L278.78 341.81 L279.46 341.79 L280.06 341.77 L280.59 341.76 L281.09 341.74 L281.56 341.72 L282.02 341.68 L282.49 341.64 L283.00 341.57 L283.59 341.49 L284.16 341.39 L284.72 341.29 L285.28 341.17 L285.83 341.03 L286.39 340.88 L286.94 340.71 L287.50 340.51 L288.07 340.30 L288.66 340.05 L289.25 339.79 L289.84 339.51 L290.42 339.22 L290.98 338.91 L291.51 338.59 L292.00 338.26 L292.69 337.74 L293.30 337.21 L293.86 336.37 L294.42 335.47 L295.00 334.59 L295.62 333.42 L296.24 332.92 L296.86 331.51 L297.48 332.26 L298.10 330.06 L298.71 327.62 L299.31 326.69 L299.90 324.48 L300.50 324.38 L301.10 321.78 L301.71 320.31 L302.34 317.65 L302.96 315.46 L303.55 314.46 L304.10 311.79 L304.89 307.67 L305.59 302.17 L306.30 298.51 L306.87 296.96 L307.44 292.84 L308.02 291.65 L308.60 288.36 L309.18 287.54 L309.78 286.25 L310.35 283.04 L310.90 283.14 L311.59 281.29 L312.24 278.00 L312.80 277.23 L313.90 279.92 L314.90 284.59 L315.47 291.04 L316.10 297.24 L316.78 304.94 L317.60 310.25 L318.12 314.23 L318.70 317.14 L319.31 320.69 L319.90 325.12 L320.48 327.96 L321.06 331.21 L321.63 333.83 L322.20 336.21 L322.94 337.57 L323.66 339.26 L324.40 340.51 L324.98 341.14 L325.57 341.46 L326.16 341.65 L326.70 341.84 L327.40 342.13 L328.05 342.35 L328.50 342.50" fill="none" stroke="#a2a2a7" stroke-width="0.75"/>
<path d="M265.60 342.50 L268.00 342.17 L268.31 342.16 L268.66 342.16 L269.06 342.15 L269.49 342.14 L269.97 342.13 L270.47 342.12 L271.01 342.11 L271.58 342.10 L272.17 342.09 L272.78 342.08 L273.41 342.07 L274.06 342.06 L274.72 342.05 L275.39 342.03 L276.06 342.02 L276.74 342.01 L277.42 341.99 L278.10 341.98 L278.78 341.97 L279.44 341.96 L280.10 341.94 L280.74 341.93 L281.36 341.92 L281.97 341.91 L282.55 341.89 L283.10 341.88 L283.63 341.87 L284.12 341.86 L284.58 341.85 L285.00 341.84 L285.93 341.82 L286.74 341.80 L287.44 341.79 L288.05 341.77 L288.60 341.76 L289.09 341.75 L289.55 341.74 L289.99 341.72 L290.44 341.69 L290.91 341.66 L291.43 341.62 L292.00 341.57 L292.57 341.52 L293.17 341.47 L293.78 341.42 L294.40 341.37 L295.02 341.31 L295.65 341.25 L296.27 341.18 L296.88 341.10 L297.47 341.01 L298.05 340.91 L298.60 340.79 L299.12 340.66 L299.60 340.51 L300.32 340.23 L300.98 339.91 L301.58 339.55 L302.14 339.16 L302.66 338.75 L303.15 338.33 L303.63 337.90 L304.10 337.47 L304.80 336.85 L305.41 335.79 L305.97 335.05 L306.52 335.36 L307.10 334.73 L307.71 332.95 L308.33 332.07 L308.95 329.75 L309.54 328.70 L310.10 327.46 L310.73 325.58 L311.30 323.20 L311.85 321.95 L312.40 318.79 L312.95 316.59 L313.50 311.97 L314.05 310.64 L314.60 305.94 L315.18 304.42 L315.77 299.96 L316.35 297.66 L316.90 294.77 L317.58 290.61 L318.21 289.54 L318.80 287.23 L319.57 283.37 L320.30 283.30 L321.10 283.85 L321.90 282.95 L322.66 286.04 L323.40 292.41 L324.13 298.13 L324.90 305.87 L325.49 310.13 L326.11 314.11 L326.70 319.38 L327.47 323.89 L328.20 330.14 L328.95 334.12 L329.70 336.14 L330.45 339.05 L331.20 340.51 L331.96 341.37 L332.70 341.84 L333.44 342.25 L334.00 342.50 L334.00 342.50 Z" fill="rgba(105,190,100,0.45)" stroke="none"/>
<path d="M265.60 342.20 L268.00 342.17 L268.31 342.16 L268.66 342.16 L269.06 342.15 L269.49 342.14 L269.97 342.13 L270.47 342.12 L271.01 342.11 L271.58 342.10 L272.17 342.09 L272.78 342.08 L273.41 342.07 L274.06 342.06 L274.72 342.05 L275.39 342.03 L276.06 342.02 L276.74 342.01 L277.42 341.99 L278.10 341.98 L278.78 341.97 L279.44 341.96 L280.10 341.94 L280.74 341.93 L281.36 341.92 L281.97 341.91 L282.55 341.89 L283.10 341.88 L283.63 341.87 L284.12 341.86 L284.58 341.85 L285.00 341.84 L285.93 341.82 L286.74 341.80 L287.44 341.79 L288.05 341.77 L288.60 341.76 L289.09 341.75 L289.55 341.74 L289.99 341.72 L290.44 341.69 L290.91 341.66 L291.43 341.62 L292.00 341.57 L292.57 341.52 L293.17 341.47 L293.78 341.42 L294.40 341.37 L295.02 341.31 L295.65 341.25 L296.27 341.18 L296.88 341.10 L297.47 341.01 L298.05 340.91 L298.60 340.79 L299.12 340.66 L299.60 340.51 L300.32 340.23 L300.98 339.91 L301.58 339.55 L302.14 339.16 L302.66 338.75 L303.15 338.33 L303.63 337.90 L304.10 337.47 L304.80 336.85 L305.41 335.79 L305.97 335.05 L306.52 335.36 L307.10 334.73 L307.71 332.95 L308.33 332.07 L308.95 329.75 L309.54 328.70 L310.10 327.46 L310.73 325.58 L311.30 323.20 L311.85 321.95 L312.40 318.79 L312.95 316.59 L313.50 311.97 L314.05 310.64 L314.60 305.94 L315.18 304.42 L315.77 299.96 L316.35 297.66 L316.90 294.77 L317.58 290.61 L318.21 289.54 L318.80 287.23 L319.57 283.37 L320.30 283.30 L321.10 283.85 L321.90 282.95 L322.66 286.04 L323.40 292.41 L324.13 298.13 L324.90 305.87 L325.49 310.13 L326.11 314.11 L326.70 319.38 L327.47 323.89 L328.20 330.14 L328.95 334.12 L329.70 336.14 L330.45 339.05 L331.20 340.51 L331.96 341.37 L332.70 341.84 L333.44 342.25 L334.00 342.50" fill="none" stroke="#3bb149" stroke-width="1.2"/>
<rect x="265.0" y="272.2" width="70.60" height="70.40" fill="none" stroke="#111" stroke-width="1.3"/>
<text x="265.90" y="354.60" font-size="8.0" text-anchor="middle" font-weight="normal" font-style="normal" fill="#161414" >−10<tspan font-size="5.6" dy="-2.7">3</tspan></text>
<text x="280.70" y="354.60" font-size="8.0" text-anchor="middle" font-weight="normal" font-style="normal" fill="#161414" >0</text>
<text x="293.50" y="354.60" font-size="8.0" text-anchor="middle" font-weight="normal" font-style="normal" fill="#161414" >10<tspan font-size="5.6" dy="-2.7">3</tspan></text>
<text x="312.00" y="354.60" font-size="8.0" text-anchor="middle" font-weight="normal" font-style="normal" fill="#161414" >10<tspan font-size="5.6" dy="-2.7">4</tspan></text>
<text x="329.80" y="354.60" font-size="8.0" text-anchor="middle" font-weight="normal" font-style="normal" fill="#161414" >10<tspan font-size="5.6" dy="-2.7">5</tspan></text>
<text x="300.00" y="366.00" font-size="8.6" text-anchor="middle" font-weight="normal" font-style="normal" fill="#161414" textLength="23.2" lengthAdjust="spacingAndGlyphs" >IgM-PE</text>
<text transform="translate(241.90,307.50) rotate(-90)" font-size="8.9" text-anchor="middle" fill="#161414" textLength="81.7" lengthAdjust="spacingAndGlyphs">Density (norm. vs mode)</text>
<line x1="151.50" y1="452.80" x2="154.30" y2="452.80" stroke="#111" stroke-width="0.9"/>
<line x1="152.70" y1="449.49" x2="154.30" y2="449.49" stroke="#111" stroke-width="0.75"/>
<line x1="152.70" y1="446.18" x2="154.30" y2="446.18" stroke="#111" stroke-width="0.75"/>
<line x1="152.70" y1="442.87" x2="154.30" y2="442.87" stroke="#111" stroke-width="0.75"/>
<text x="148.70" y="455.40" font-size="8.4" text-anchor="end" font-weight="normal" font-style="normal" fill="#161414" >0</text>
<line x1="151.50" y1="439.56" x2="154.30" y2="439.56" stroke="#111" stroke-width="0.9"/>
<line x1="152.70" y1="436.25" x2="154.30" y2="436.25" stroke="#111" stroke-width="0.75"/>
<line x1="152.70" y1="432.94" x2="154.30" y2="432.94" stroke="#111" stroke-width="0.75"/>
<line x1="152.70" y1="429.63" x2="154.30" y2="429.63" stroke="#111" stroke-width="0.75"/>
<text x="148.70" y="442.16" font-size="8.4" text-anchor="end" font-weight="normal" font-style="normal" fill="#161414" >20</text>
<line x1="151.50" y1="426.32" x2="154.30" y2="426.32" stroke="#111" stroke-width="0.9"/>
<line x1="152.70" y1="423.01" x2="154.30" y2="423.01" stroke="#111" stroke-width="0.75"/>
<line x1="152.70" y1="419.70" x2="154.30" y2="419.70" stroke="#111" stroke-width="0.75"/>
<line x1="152.70" y1="416.39" x2="154.30" y2="416.39" stroke="#111" stroke-width="0.75"/>
<text x="148.70" y="428.92" font-size="8.4" text-anchor="end" font-weight="normal" font-style="normal" fill="#161414" >40</text>
<line x1="151.50" y1="413.08" x2="154.30" y2="413.08" stroke="#111" stroke-width="0.9"/>
<line x1="152.70" y1="409.77" x2="154.30" y2="409.77" stroke="#111" stroke-width="0.75"/>
<line x1="152.70" y1="406.46" x2="154.30" y2="406.46" stroke="#111" stroke-width="0.75"/>
<line x1="152.70" y1="403.15" x2="154.30" y2="403.15" stroke="#111" stroke-width="0.75"/>
<text x="148.70" y="415.68" font-size="8.4" text-anchor="end" font-weight="normal" font-style="normal" fill="#161414" >60</text>
<line x1="151.50" y1="399.84" x2="154.30" y2="399.84" stroke="#111" stroke-width="0.9"/>
<line x1="152.70" y1="396.53" x2="154.30" y2="396.53" stroke="#111" stroke-width="0.75"/>
<line x1="152.70" y1="393.22" x2="154.30" y2="393.22" stroke="#111" stroke-width="0.75"/>
<line x1="152.70" y1="389.91" x2="154.30" y2="389.91" stroke="#111" stroke-width="0.75"/>
<text x="148.70" y="402.44" font-size="8.4" text-anchor="end" font-weight="normal" font-style="normal" fill="#161414" >80</text>
<line x1="151.50" y1="386.60" x2="154.30" y2="386.60" stroke="#111" stroke-width="0.9"/>
<text x="148.70" y="389.20" font-size="8.4" text-anchor="end" font-weight="normal" font-style="normal" fill="#161414" >100</text>
<line x1="155.20" y1="452.90" x2="155.20" y2="455.70" stroke="#111" stroke-width="0.9"/>
<line x1="170.00" y1="452.90" x2="170.00" y2="455.70" stroke="#111" stroke-width="0.9"/>
<line x1="182.80" y1="452.90" x2="182.80" y2="455.70" stroke="#111" stroke-width="0.9"/>
<line x1="201.30" y1="452.90" x2="201.30" y2="455.70" stroke="#111" stroke-width="0.9"/>
<line x1="219.10" y1="452.90" x2="219.10" y2="455.70" stroke="#111" stroke-width="0.9"/>
<line x1="188.37" y1="452.90" x2="188.37" y2="454.50" stroke="#111" stroke-width="0.75"/>
<line x1="191.63" y1="452.90" x2="191.63" y2="454.50" stroke="#111" stroke-width="0.75"/>
<line x1="193.94" y1="452.90" x2="193.94" y2="454.50" stroke="#111" stroke-width="0.75"/>
<line x1="195.73" y1="452.90" x2="195.73" y2="454.50" stroke="#111" stroke-width="0.75"/>
<line x1="197.20" y1="452.90" x2="197.20" y2="454.50" stroke="#111" stroke-width="0.75"/>
<line x1="198.43" y1="452.90" x2="198.43" y2="454.50" stroke="#111" stroke-width="0.75"/>
<line x1="199.51" y1="452.90" x2="199.51" y2="454.50" stroke="#111" stroke-width="0.75"/>
<line x1="200.45" y1="452.90" x2="200.45" y2="454.50" stroke="#111" stroke-width="0.75"/>
<line x1="206.66" y1="452.90" x2="206.66" y2="454.50" stroke="#111" stroke-width="0.75"/>
<line x1="209.79" y1="452.90" x2="209.79" y2="454.50" stroke="#111" stroke-width="0.75"/>
<line x1="212.02" y1="452.90" x2="212.02" y2="454.50" stroke="#111" stroke-width="0.75"/>
<line x1="213.74" y1="452.90" x2="213.74" y2="454.50" stroke="#111" stroke-width="0.75"/>
<line x1="215.15" y1="452.90" x2="215.15" y2="454.50" stroke="#111" stroke-width="0.75"/>
<line x1="216.34" y1="452.90" x2="216.34" y2="454.50" stroke="#111" stroke-width="0.75"/>
<line x1="217.38" y1="452.90" x2="217.38" y2="454.50" stroke="#111" stroke-width="0.75"/>
<line x1="218.29" y1="452.90" x2="218.29" y2="454.50" stroke="#111" stroke-width="0.75"/>
<line x1="157.80" y1="452.90" x2="157.80" y2="454.50" stroke="#111" stroke-width="0.75"/>
<line x1="160.30" y1="452.90" x2="160.30" y2="454.50" stroke="#111" stroke-width="0.75"/>
<line x1="162.80" y1="452.90" x2="162.80" y2="454.50" stroke="#111" stroke-width="0.75"/>
<line x1="165.30" y1="452.90" x2="165.30" y2="454.50" stroke="#111" stroke-width="0.75"/>
<line x1="167.60" y1="452.90" x2="167.60" y2="454.50" stroke="#111" stroke-width="0.75"/>
<line x1="172.30" y1="452.90" x2="172.30" y2="454.50" stroke="#111" stroke-width="0.75"/>
<line x1="174.80" y1="452.90" x2="174.80" y2="454.50" stroke="#111" stroke-width="0.75"/>
<line x1="177.30" y1="452.90" x2="177.30" y2="454.50" stroke="#111" stroke-width="0.75"/>
<line x1="179.30" y1="452.90" x2="179.30" y2="454.50" stroke="#111" stroke-width="0.75"/>
<line x1="219.80" y1="452.90" x2="219.80" y2="454.50" stroke="#111" stroke-width="0.75"/>
<line x1="222.30" y1="452.90" x2="222.30" y2="454.50" stroke="#111" stroke-width="0.75"/>
<line x1="224.30" y1="452.90" x2="224.30" y2="454.50" stroke="#111" stroke-width="0.75"/>
<rect x="168.80" y="452.9" width="2.4" height="1.8" fill="#111"/>
<path d="M154.90 452.80 L156.00 452.54 L156.00 452.54 L156.31 452.52 L156.69 452.50 L157.12 452.48 L157.61 452.46 L158.14 452.43 L158.70 452.41 L159.30 452.38 L159.92 452.35 L160.56 452.32 L161.21 452.28 L161.87 452.25 L162.52 452.22 L163.16 452.18 L163.79 452.15 L164.39 452.11 L164.97 452.08 L165.50 452.04 L166.00 452.01 L166.69 451.96 L167.35 451.91 L167.98 451.87 L168.59 451.83 L169.18 451.79 L169.75 451.75 L170.31 451.70 L170.85 451.64 L171.39 451.57 L171.93 451.49 L172.46 451.39 L173.00 451.28 L173.65 451.12 L174.29 450.95 L174.92 450.76 L175.54 450.56 L176.15 450.34 L176.75 450.10 L177.33 449.86 L177.91 449.59 L178.46 449.32 L179.00 449.03 L179.65 448.64 L180.29 448.22 L180.90 447.78 L181.49 447.40 L182.05 447.11 L182.60 447.11 L183.11 445.06 L183.60 446.36 L184.30 444.52 L184.92 442.90 L185.48 443.79 L186.03 441.79 L186.60 440.44 L187.20 440.16 L187.80 437.72 L188.40 435.17 L189.00 433.75 L189.60 431.21 L190.21 430.41 L190.84 428.16 L191.46 426.31 L192.05 423.33 L192.60 420.32 L193.20 418.39 L193.74 415.35 L194.26 413.52 L194.80 410.11 L195.37 408.75 L195.94 405.57 L196.52 402.10 L197.10 399.63 L197.69 398.20 L198.30 397.06 L198.88 395.08 L199.40 393.90 L200.22 392.30 L200.90 390.31 L201.53 390.18 L202.10 387.97 L203.10 391.03 L203.69 393.67 L204.30 394.27 L205.40 400.12 L206.12 406.63 L206.90 412.25 L207.65 418.04 L208.40 426.55 L209.15 431.79 L209.90 438.51 L210.60 442.60 L211.40 446.00 L211.92 448.29 L212.50 449.39 L213.11 450.25 L213.70 451.01 L214.33 451.67 L214.99 452.17 L215.59 452.53 L216.00 452.80 L216.00 452.80 Z" fill="#e1e1e3" stroke="none"/>
<path d="M154.90 452.80 L156.00 452.54 L156.31 452.52 L156.69 452.50 L157.12 452.48 L157.61 452.46 L158.14 452.43 L158.70 452.41 L159.30 452.38 L159.92 452.35 L160.56 452.32 L161.21 452.28 L161.87 452.25 L162.52 452.22 L163.16 452.18 L163.79 452.15 L164.39 452.11 L164.97 452.08 L165.50 452.04 L166.00 452.01 L166.69 451.96 L167.35 451.91 L167.98 451.87 L168.59 451.83 L169.18 451.79 L169.75 451.75 L170.31 451.70 L170.85 451.64 L171.39 451.57 L171.93 451.49 L172.46 451.39 L173.00 451.28 L173.65 451.12 L174.29 450.95 L174.92 450.76 L175.54 450.56 L176.15 450.34 L176.75 450.10 L177.33 449.86 L177.91 449.59 L178.46 449.32 L179.00 449.03 L179.65 448.64 L180.29 448.22 L180.90 447.78 L181.49 447.40 L182.05 447.11 L182.60 447.11 L183.11 445.06 L183.60 446.36 L184.30 444.52 L184.92 442.90 L185.48 443.79 L186.03 441.79 L186.60 440.44 L187.20 440.16 L187.80 437.72 L188.40 435.17 L189.00 433.75 L189.60 431.21 L190.21 430.41 L190.84 428.16 L191.46 426.31 L192.05 423.33 L192.60 420.32 L193.20 418.39 L193.74 415.35 L194.26 413.52 L194.80 410.11 L195.37 408.75 L195.94 405.57 L196.52 402.10 L197.10 399.63 L197.69 398.20 L198.30 397.06 L198.88 395.08 L199.40 393.90 L200.22 392.30 L200.90 390.31 L201.53 390.18 L202.10 387.97 L203.10 391.03 L203.69 393.67 L204.30 394.27 L205.40 400.12 L206.12 406.63 L206.90 412.25 L207.65 418.04 L208.40 426.55 L209.15 431.79 L209.90 438.51 L210.60 442.60 L211.40 446.00 L211.92 448.29 L212.50 449.39 L213.11 450.25 L213.70 451.01 L214.33 451.67 L214.99 452.17 L215.59 452.53 L216.00 452.80" fill="none" stroke="#a2a2a7" stroke-width="0.75"/>
<path d="M154.90 452.80 L156.00 452.40 L156.31 452.39 L156.67 452.37 L157.09 452.35 L157.55 452.33 L158.05 452.31 L158.59 452.29 L159.16 452.27 L159.76 452.24 L160.38 452.21 L161.01 452.18 L161.65 452.16 L162.30 452.13 L162.94 452.10 L163.59 452.06 L164.22 452.03 L164.83 452.00 L165.43 451.97 L166.00 451.94 L166.56 451.91 L167.12 451.88 L167.68 451.84 L168.24 451.81 L168.81 451.77 L169.37 451.74 L169.94 451.70 L170.50 451.67 L171.06 451.63 L171.62 451.59 L172.18 451.55 L172.74 451.52 L173.29 451.48 L173.84 451.44 L174.39 451.40 L174.93 451.36 L175.47 451.32 L176.00 451.28 L176.60 451.23 L177.20 451.19 L177.81 451.16 L178.42 451.12 L179.03 451.09 L179.64 451.05 L180.24 451.01 L180.84 450.98 L181.42 450.93 L181.99 450.89 L182.55 450.84 L183.08 450.78 L183.60 450.72 L184.09 450.65 L184.56 450.57 L185.00 450.48 L185.80 450.29 L186.50 450.09 L187.12 449.87 L187.68 449.63 L188.19 449.35 L188.67 449.04 L189.13 448.70 L189.60 448.30 L190.30 447.54 L190.92 446.93 L191.48 445.71 L192.03 444.85 L192.60 443.84 L193.20 443.09 L193.80 441.81 L194.40 441.86 L195.00 440.13 L195.60 440.27 L196.21 438.16 L196.83 436.38 L197.45 434.92 L198.04 431.68 L198.60 430.63 L199.23 427.08 L199.82 424.06 L200.37 422.84 L200.90 418.80 L201.58 415.36 L202.21 412.03 L202.80 410.11 L203.56 405.13 L204.30 401.36 L204.90 400.13 L205.53 398.60 L206.10 396.73 L206.74 393.54 L207.30 390.36 L208.40 395.93 L209.50 396.49 L210.07 397.30 L210.70 399.15 L211.41 405.29 L212.20 411.60 L212.77 413.53 L213.38 417.90 L214.00 422.06 L214.62 426.70 L215.26 431.38 L215.90 435.46 L216.57 438.98 L217.24 442.33 L217.90 446.24 L218.50 447.58 L219.07 449.23 L219.70 450.48 L220.26 451.14 L220.87 451.52 L221.47 451.76 L222.00 452.01 L222.89 452.50 L223.50 452.80 L223.50 452.80 Z" fill="rgba(70,175,228,0.44)" stroke="none"/>
<path d="M154.90 452.50 L156.00 452.40 L156.31 452.39 L156.67 452.37 L157.09 452.35 L157.55 452.33 L158.05 452.31 L158.59 452.29 L159.16 452.27 L159.76 452.24 L160.38 452.21 L161.01 452.18 L161.65 452.16 L162.30 452.13 L162.94 452.10 L163.59 452.06 L164.22 452.03 L164.83 452.00 L165.43 451.97 L166.00 451.94 L166.56 451.91 L167.12 451.88 L167.68 451.84 L168.24 451.81 L168.81 451.77 L169.37 451.74 L169.94 451.70 L170.50 451.67 L171.06 451.63 L171.62 451.59 L172.18 451.55 L172.74 451.52 L173.29 451.48 L173.84 451.44 L174.39 451.40 L174.93 451.36 L175.47 451.32 L176.00 451.28 L176.60 451.23 L177.20 451.19 L177.81 451.16 L178.42 451.12 L179.03 451.09 L179.64 451.05 L180.24 451.01 L180.84 450.98 L181.42 450.93 L181.99 450.89 L182.55 450.84 L183.08 450.78 L183.60 450.72 L184.09 450.65 L184.56 450.57 L185.00 450.48 L185.80 450.29 L186.50 450.09 L187.12 449.87 L187.68 449.63 L188.19 449.35 L188.67 449.04 L189.13 448.70 L189.60 448.30 L190.30 447.54 L190.92 446.93 L191.48 445.71 L192.03 444.85 L192.60 443.84 L193.20 443.09 L193.80 441.81 L194.40 441.86 L195.00 440.13 L195.60 440.27 L196.21 438.16 L196.83 436.38 L197.45 434.92 L198.04 431.68 L198.60 430.63 L199.23 427.08 L199.82 424.06 L200.37 422.84 L200.90 418.80 L201.58 415.36 L202.21 412.03 L202.80 410.11 L203.56 405.13 L204.30 401.36 L204.90 400.13 L205.53 398.60 L206.10 396.73 L206.74 393.54 L207.30 390.36 L208.40 395.93 L209.50 396.49 L210.07 397.30 L210.70 399.15 L211.41 405.29 L212.20 411.60 L212.77 413.53 L213.38 417.90 L214.00 422.06 L214.62 426.70 L215.26 431.38 L215.90 435.46 L216.57 438.98 L217.24 442.33 L217.90 446.24 L218.50 447.58 L219.07 449.23 L219.70 450.48 L220.26 451.14 L220.87 451.52 L221.47 451.76 L222.00 452.01 L222.89 452.50 L223.50 452.80" fill="none" stroke="#29a9e1" stroke-width="1.2"/>
<rect x="154.3" y="382.5" width="70.60" height="70.40" fill="none" stroke="#111" stroke-width="1.3"/>
<text x="155.20" y="464.90" font-size="8.0" text-anchor="middle" font-weight="normal" font-style="normal" fill="#161414" >−10<tspan font-size="5.6" dy="-2.7">3</tspan></text>
<text x="170.00" y="464.90" font-size="8.0" text-anchor="middle" font-weight="normal" font-style="normal" fill="#161414" >0</text>
<text x="182.80" y="464.90" font-size="8.0" text-anchor="middle" font-weight="normal" font-style="normal" fill="#161414" >10<tspan font-size="5.6" dy="-2.7">3</tspan></text>
<text x="201.30" y="464.90" font-size="8.0" text-anchor="middle" font-weight="normal" font-style="normal" fill="#161414" >10<tspan font-size="5.6" dy="-2.7">4</tspan></text>
<text x="219.10" y="464.90" font-size="8.0" text-anchor="middle" font-weight="normal" font-style="normal" fill="#161414" >10<tspan font-size="5.6" dy="-2.7">5</tspan></text>
<text x="189.30" y="476.30" font-size="8.6" text-anchor="middle" font-weight="normal" font-style="normal" fill="#161414" textLength="23.2" lengthAdjust="spacingAndGlyphs" >IgM-PE</text>
<text transform="translate(131.20,417.80) rotate(-90)" font-size="8.9" text-anchor="middle" fill="#161414" textLength="81.7" lengthAdjust="spacingAndGlyphs">Density (norm. vs mode)</text>
<text x="234.70" y="393.50" font-size="8.2" text-anchor="start" font-weight="bold" font-style="normal" fill="#161414" textLength="98.8" lengthAdjust="spacingAndGlyphs" >U-2932 expression models:</text>
<rect x="234.7" y="399.80" width="6.9" height="6.8" fill="#bdbdc0"/>
<text x="246.20" y="406.20" font-size="8.0" text-anchor="start" font-weight="normal" font-style="normal" fill="#161414" textLength="70.7" lengthAdjust="spacingAndGlyphs" >Untransduced (GFP−)</text>
<rect x="234.7" y="413.00" width="6.9" height="6.8" fill="#c8102e"/>
<text x="246.20" y="419.40" font-size="8.0" text-anchor="start" font-weight="normal" font-style="normal" fill="#161414" textLength="31.5" lengthAdjust="spacingAndGlyphs" >CD79B<tspan font-size="5.6" dy="-2.7">WT</tspan></text>
<rect x="234.7" y="426.20" width="6.9" height="6.8" fill="#29a9e1"/>
<text x="246.20" y="432.60" font-size="8.0" text-anchor="start" font-weight="normal" font-style="normal" fill="#161414" textLength="39.3" lengthAdjust="spacingAndGlyphs" >CD79B<tspan font-size="5.6" dy="-2.7">Y196H</tspan></text>
<rect x="234.7" y="439.40" width="6.9" height="6.8" fill="#3bb149"/>
<text x="246.20" y="445.80" font-size="8.0" text-anchor="start" font-weight="normal" font-style="normal" fill="#161414" textLength="27.8" lengthAdjust="spacingAndGlyphs" >CD79B<tspan font-size="5.6" dy="-2.7">IR</tspan></text>
</g>
<g id="E">
<text x="350.40" y="259.70" font-size="11.2" text-anchor="start" font-weight="bold" font-style="normal" fill="#000" >E</text>
<text transform="translate(366.50,312.6) rotate(-90)" font-size="8.5" fill="#161414" textLength="29.4" lengthAdjust="spacingAndGlyphs">Parental</text>
<text transform="translate(395.50,312.6) rotate(-90)" font-size="8.5" fill="#161414">CD79B<tspan font-size="4.7" dy="-3.1">WT</tspan></text>
<text transform="translate(423.50,312.6) rotate(-90)" font-size="8.5" fill="#161414">CD79B<tspan font-size="4.7" dy="-3.1">Y196H</tspan></text>
<text transform="translate(452.50,312.6) rotate(-90)" font-size="8.5" fill="#161414">CD79B<tspan font-size="4.7" dy="-3.1">IR</tspan></text>
<rect x="349.5" y="315.9" width="117.30" height="22.30" fill="#fafafa"/>
<rect x="349.5" y="341.7" width="117.30" height="18.40" fill="#fafafa"/>
<rect x="349.5" y="364.2" width="117.30" height="24.20" fill="#fafafa"/>
<rect x="349.5" y="392.8" width="117.30" height="14.80" fill="#fafafa"/>
<rect x="349.5" y="315.9" width="117.30" height="14" fill="#f1f1f1"/>
<rect x="349.5" y="341.7" width="117.30" height="11" fill="#f1f1f1"/>
<rect x="349.5" y="364.2" width="117.30" height="18" fill="#eeeeee"/>
<rect x="349.5" y="392.8" width="117.30" height="14.80" fill="#f3f3f3"/>
<path d="M354.30 322.32 C359.00 321.75 373.10 321.90 377.80 322.32 C378.03 322.61 378.03 322.99 377.80 323.28 C373.10 324.35 359.00 324.35 354.30 323.28 C354.07 322.99 354.07 322.61 354.30 322.32 Z" fill="#1a1a1a" stroke="#1a1a1a" stroke-width="3.08" stroke-linejoin="round" opacity="0.090"/>
<path d="M354.30 322.32 C359.00 321.75 373.10 321.90 377.80 322.32 C378.03 322.61 378.03 322.99 377.80 323.28 C373.10 324.35 359.00 324.35 354.30 323.28 C354.07 322.99 354.07 322.61 354.30 322.32 Z" fill="#1a1a1a" stroke="#1a1a1a" stroke-width="2.10" stroke-linejoin="round" opacity="0.144"/>
<path d="M354.30 322.32 C359.00 321.75 373.10 321.90 377.80 322.32 C378.03 322.61 378.03 322.99 377.80 323.28 C373.10 324.35 359.00 324.35 354.30 323.28 C354.07 322.99 354.07 322.61 354.30 322.32 Z" fill="#1a1a1a" stroke="#1a1a1a" stroke-width="1.26" stroke-linejoin="round" opacity="0.198"/>
<path d="M354.30 322.32 C359.00 321.75 373.10 321.90 377.80 322.32 C378.03 322.61 378.03 322.99 377.80 323.28 C373.10 324.35 359.00 324.35 354.30 323.28 C354.07 322.99 354.07 322.61 354.30 322.32 Z" fill="#1a1a1a" stroke="#1a1a1a" stroke-width="0.56" stroke-linejoin="round" opacity="0.270"/>
<path d="M354.30 322.32 C359.00 321.75 373.10 321.90 377.80 322.32 C378.03 322.61 378.03 322.99 377.80 323.28 C373.10 324.35 359.00 324.35 354.30 323.28 C354.07 322.99 354.07 322.61 354.30 322.32 Z" fill="#1a1a1a" opacity="0.9"/>
<path d="M383.00 322.90 C387.72 322.18 401.88 322.36 406.60 322.90 C406.89 323.26 406.89 323.74 406.60 324.10 C401.88 325.42 387.72 325.42 383.00 324.10 C382.71 323.74 382.71 323.26 383.00 322.90 Z" fill="#111" stroke="#111" stroke-width="3.08" stroke-linejoin="round" opacity="0.100"/>
<path d="M383.00 322.90 C387.72 322.18 401.88 322.36 406.60 322.90 C406.89 323.26 406.89 323.74 406.60 324.10 C401.88 325.42 387.72 325.42 383.00 324.10 C382.71 323.74 382.71 323.26 383.00 322.90 Z" fill="#111" stroke="#111" stroke-width="2.10" stroke-linejoin="round" opacity="0.160"/>
<path d="M383.00 322.90 C387.72 322.18 401.88 322.36 406.60 322.90 C406.89 323.26 406.89 323.74 406.60 324.10 C401.88 325.42 387.72 325.42 383.00 324.10 C382.71 323.74 382.71 323.26 383.00 322.90 Z" fill="#111" stroke="#111" stroke-width="1.26" stroke-linejoin="round" opacity="0.220"/>
<path d="M383.00 322.90 C387.72 322.18 401.88 322.36 406.60 322.90 C406.89 323.26 406.89 323.74 406.60 324.10 C401.88 325.42 387.72 325.42 383.00 324.10 C382.71 323.74 382.71 323.26 383.00 322.90 Z" fill="#111" stroke="#111" stroke-width="0.56" stroke-linejoin="round" opacity="0.300"/>
<path d="M383.00 322.90 C387.72 322.18 401.88 322.36 406.60 322.90 C406.89 323.26 406.89 323.74 406.60 324.10 C401.88 325.42 387.72 325.42 383.00 324.10 C382.71 323.74 382.71 323.26 383.00 322.90 Z" fill="#111" opacity="1"/>
<path d="M411.60 323.00 C416.40 322.16 430.80 322.34 435.60 323.00 C435.94 323.42 435.94 323.98 435.60 324.40 C430.80 325.84 416.40 325.84 411.60 324.40 C411.26 323.98 411.26 323.42 411.60 323.00 Z" fill="#050505" stroke="#050505" stroke-width="3.08" stroke-linejoin="round" opacity="0.100"/>
<path d="M411.60 323.00 C416.40 322.16 430.80 322.34 435.60 323.00 C435.94 323.42 435.94 323.98 435.60 324.40 C430.80 325.84 416.40 325.84 411.60 324.40 C411.26 323.98 411.26 323.42 411.60 323.00 Z" fill="#050505" stroke="#050505" stroke-width="2.10" stroke-linejoin="round" opacity="0.160"/>
<path d="M411.60 323.00 C416.40 322.16 430.80 322.34 435.60 323.00 C435.94 323.42 435.94 323.98 435.60 324.40 C430.80 325.84 416.40 325.84 411.60 324.40 C411.26 323.98 411.26 323.42 411.60 323.00 Z" fill="#050505" stroke="#050505" stroke-width="1.26" stroke-linejoin="round" opacity="0.220"/>
<path d="M411.60 323.00 C416.40 322.16 430.80 322.34 435.60 323.00 C435.94 323.42 435.94 323.98 435.60 324.40 C430.80 325.84 416.40 325.84 411.60 324.40 C411.26 323.98 411.26 323.42 411.60 323.00 Z" fill="#050505" stroke="#050505" stroke-width="0.56" stroke-linejoin="round" opacity="0.300"/>
<path d="M411.60 323.00 C416.40 322.16 430.80 322.34 435.60 323.00 C435.94 323.42 435.94 323.98 435.60 324.40 C430.80 325.84 416.40 325.84 411.60 324.40 C411.26 323.98 411.26 323.42 411.60 323.00 Z" fill="#050505" opacity="1"/>
<path d="M440.70 322.85 C445.32 322.07 459.18 322.25 463.80 322.85 C464.11 323.24 464.11 323.76 463.80 324.15 C459.18 325.53 445.32 325.53 440.70 324.15 C440.39 323.76 440.39 323.24 440.70 322.85 Z" fill="#050505" stroke="#050505" stroke-width="3.08" stroke-linejoin="round" opacity="0.100"/>
<path d="M440.70 322.85 C445.32 322.07 459.18 322.25 463.80 322.85 C464.11 323.24 464.11 323.76 463.80 324.15 C459.18 325.53 445.32 325.53 440.70 324.15 C440.39 323.76 440.39 323.24 440.70 322.85 Z" fill="#050505" stroke="#050505" stroke-width="2.10" stroke-linejoin="round" opacity="0.160"/>
<path d="M440.70 322.85 C445.32 322.07 459.18 322.25 463.80 322.85 C464.11 323.24 464.11 323.76 463.80 324.15 C459.18 325.53 445.32 325.53 440.70 324.15 C440.39 323.76 440.39 323.24 440.70 322.85 Z" fill="#050505" stroke="#050505" stroke-width="1.26" stroke-linejoin="round" opacity="0.220"/>
<path d="M440.70 322.85 C445.32 322.07 459.18 322.25 463.80 322.85 C464.11 323.24 464.11 323.76 463.80 324.15 C459.18 325.53 445.32 325.53 440.70 324.15 C440.39 323.76 440.39 323.24 440.70 322.85 Z" fill="#050505" stroke="#050505" stroke-width="0.56" stroke-linejoin="round" opacity="0.300"/>
<path d="M440.70 322.85 C445.32 322.07 459.18 322.25 463.80 322.85 C464.11 323.24 464.11 323.76 463.80 324.15 C459.18 325.53 445.32 325.53 440.70 324.15 C440.39 323.76 440.39 323.24 440.70 322.85 Z" fill="#050505" opacity="1"/>
<path d="M354.30 348.32 C359.00 347.63 373.10 347.81 377.80 348.32 C378.08 348.67 378.08 349.13 377.80 349.47 C373.10 350.76 359.00 350.76 354.30 349.47 C354.02 349.13 354.02 348.67 354.30 348.32 Z" fill="#111" stroke="#111" stroke-width="3.08" stroke-linejoin="round" opacity="0.100"/>
<path d="M354.30 348.32 C359.00 347.63 373.10 347.81 377.80 348.32 C378.08 348.67 378.08 349.13 377.80 349.47 C373.10 350.76 359.00 350.76 354.30 349.47 C354.02 349.13 354.02 348.67 354.30 348.32 Z" fill="#111" stroke="#111" stroke-width="2.10" stroke-linejoin="round" opacity="0.160"/>
<path d="M354.30 348.32 C359.00 347.63 373.10 347.81 377.80 348.32 C378.08 348.67 378.08 349.13 377.80 349.47 C373.10 350.76 359.00 350.76 354.30 349.47 C354.02 349.13 354.02 348.67 354.30 348.32 Z" fill="#111" stroke="#111" stroke-width="1.26" stroke-linejoin="round" opacity="0.220"/>
<path d="M354.30 348.32 C359.00 347.63 373.10 347.81 377.80 348.32 C378.08 348.67 378.08 349.13 377.80 349.47 C373.10 350.76 359.00 350.76 354.30 349.47 C354.02 349.13 354.02 348.67 354.30 348.32 Z" fill="#111" stroke="#111" stroke-width="0.56" stroke-linejoin="round" opacity="0.300"/>
<path d="M354.30 348.32 C359.00 347.63 373.10 347.81 377.80 348.32 C378.08 348.67 378.08 349.13 377.80 349.47 C373.10 350.76 359.00 350.76 354.30 349.47 C354.02 349.13 354.02 348.67 354.30 348.32 Z" fill="#111" opacity="1"/>
<path d="M383.00 349.00 C387.72 348.28 401.88 348.46 406.60 349.00 C406.89 349.36 406.89 349.84 406.60 350.20 C401.88 351.52 387.72 351.52 383.00 350.20 C382.71 349.84 382.71 349.36 383.00 349.00 Z" fill="#111" stroke="#111" stroke-width="3.08" stroke-linejoin="round" opacity="0.100"/>
<path d="M383.00 349.00 C387.72 348.28 401.88 348.46 406.60 349.00 C406.89 349.36 406.89 349.84 406.60 350.20 C401.88 351.52 387.72 351.52 383.00 350.20 C382.71 349.84 382.71 349.36 383.00 349.00 Z" fill="#111" stroke="#111" stroke-width="2.10" stroke-linejoin="round" opacity="0.160"/>
<path d="M383.00 349.00 C387.72 348.28 401.88 348.46 406.60 349.00 C406.89 349.36 406.89 349.84 406.60 350.20 C401.88 351.52 387.72 351.52 383.00 350.20 C382.71 349.84 382.71 349.36 383.00 349.00 Z" fill="#111" stroke="#111" stroke-width="1.26" stroke-linejoin="round" opacity="0.220"/>
<path d="M383.00 349.00 C387.72 348.28 401.88 348.46 406.60 349.00 C406.89 349.36 406.89 349.84 406.60 350.20 C401.88 351.52 387.72 351.52 383.00 350.20 C382.71 349.84 382.71 349.36 383.00 349.00 Z" fill="#111" stroke="#111" stroke-width="0.56" stroke-linejoin="round" opacity="0.300"/>
<path d="M383.00 349.00 C387.72 348.28 401.88 348.46 406.60 349.00 C406.89 349.36 406.89 349.84 406.60 350.20 C401.88 351.52 387.72 351.52 383.00 350.20 C382.71 349.84 382.71 349.36 383.00 349.00 Z" fill="#111" opacity="1"/>
<path d="M411.60 348.95 C416.40 348.17 430.80 348.35 435.60 348.95 C435.91 349.34 435.91 349.86 435.60 350.25 C430.80 351.63 416.40 351.63 411.60 350.25 C411.29 349.86 411.29 349.34 411.60 348.95 Z" fill="#050505" stroke="#050505" stroke-width="3.08" stroke-linejoin="round" opacity="0.100"/>
<path d="M411.60 348.95 C416.40 348.17 430.80 348.35 435.60 348.95 C435.91 349.34 435.91 349.86 435.60 350.25 C430.80 351.63 416.40 351.63 411.60 350.25 C411.29 349.86 411.29 349.34 411.60 348.95 Z" fill="#050505" stroke="#050505" stroke-width="2.10" stroke-linejoin="round" opacity="0.160"/>
<path d="M411.60 348.95 C416.40 348.17 430.80 348.35 435.60 348.95 C435.91 349.34 435.91 349.86 435.60 350.25 C430.80 351.63 416.40 351.63 411.60 350.25 C411.29 349.86 411.29 349.34 411.60 348.95 Z" fill="#050505" stroke="#050505" stroke-width="1.26" stroke-linejoin="round" opacity="0.220"/>
<path d="M411.60 348.95 C416.40 348.17 430.80 348.35 435.60 348.95 C435.91 349.34 435.91 349.86 435.60 350.25 C430.80 351.63 416.40 351.63 411.60 350.25 C411.29 349.86 411.29 349.34 411.60 348.95 Z" fill="#050505" stroke="#050505" stroke-width="0.56" stroke-linejoin="round" opacity="0.300"/>
<path d="M411.60 348.95 C416.40 348.17 430.80 348.35 435.60 348.95 C435.91 349.34 435.91 349.86 435.60 350.25 C430.80 351.63 416.40 351.63 411.60 350.25 C411.29 349.86 411.29 349.34 411.60 348.95 Z" fill="#050505" opacity="1"/>
<path d="M440.70 348.98 C445.32 348.23 459.18 348.41 463.80 348.98 C464.10 349.35 464.10 349.85 463.80 350.23 C459.18 351.58 445.32 351.58 440.70 350.23 C440.40 349.85 440.40 349.35 440.70 348.98 Z" fill="#050505" stroke="#050505" stroke-width="3.08" stroke-linejoin="round" opacity="0.100"/>
<path d="M440.70 348.98 C445.32 348.23 459.18 348.41 463.80 348.98 C464.10 349.35 464.10 349.85 463.80 350.23 C459.18 351.58 445.32 351.58 440.70 350.23 C440.40 349.85 440.40 349.35 440.70 348.98 Z" fill="#050505" stroke="#050505" stroke-width="2.10" stroke-linejoin="round" opacity="0.160"/>
<path d="M440.70 348.98 C445.32 348.23 459.18 348.41 463.80 348.98 C464.10 349.35 464.10 349.85 463.80 350.23 C459.18 351.58 445.32 351.58 440.70 350.23 C440.40 349.85 440.40 349.35 440.70 348.98 Z" fill="#050505" stroke="#050505" stroke-width="1.26" stroke-linejoin="round" opacity="0.220"/>
<path d="M440.70 348.98 C445.32 348.23 459.18 348.41 463.80 348.98 C464.10 349.35 464.10 349.85 463.80 350.23 C459.18 351.58 445.32 351.58 440.70 350.23 C440.40 349.85 440.40 349.35 440.70 348.98 Z" fill="#050505" stroke="#050505" stroke-width="0.56" stroke-linejoin="round" opacity="0.300"/>
<path d="M440.70 348.98 C445.32 348.23 459.18 348.41 463.80 348.98 C464.10 349.35 464.10 349.85 463.80 350.23 C459.18 351.58 445.32 351.58 440.70 350.23 C440.40 349.85 440.40 349.35 440.70 348.98 Z" fill="#050505" opacity="1"/>
<path d="M354.40 371.32 C358.82 370.30 372.08 370.36 376.50 371.32 C377.22 373.00 377.22 374.20 376.50 375.88 C372.08 377.10 358.82 377.10 354.40 375.88 C353.68 374.20 353.68 373.00 354.40 371.32 Z" fill="#9a9a9a" stroke="#9a9a9a" stroke-width="4.40" stroke-linejoin="round" opacity="0.060"/>
<path d="M354.40 371.32 C358.82 370.30 372.08 370.36 376.50 371.32 C377.22 373.00 377.22 374.20 376.50 375.88 C372.08 377.10 358.82 377.10 354.40 375.88 C353.68 374.20 353.68 373.00 354.40 371.32 Z" fill="#9a9a9a" stroke="#9a9a9a" stroke-width="3.00" stroke-linejoin="round" opacity="0.096"/>
<path d="M354.40 371.32 C358.82 370.30 372.08 370.36 376.50 371.32 C377.22 373.00 377.22 374.20 376.50 375.88 C372.08 377.10 358.82 377.10 354.40 375.88 C353.68 374.20 353.68 373.00 354.40 371.32 Z" fill="#9a9a9a" stroke="#9a9a9a" stroke-width="1.80" stroke-linejoin="round" opacity="0.132"/>
<path d="M354.40 371.32 C358.82 370.30 372.08 370.36 376.50 371.32 C377.22 373.00 377.22 374.20 376.50 375.88 C372.08 377.10 358.82 377.10 354.40 375.88 C353.68 374.20 353.68 373.00 354.40 371.32 Z" fill="#9a9a9a" stroke="#9a9a9a" stroke-width="0.80" stroke-linejoin="round" opacity="0.180"/>
<path d="M354.40 371.32 C358.82 370.30 372.08 370.36 376.50 371.32 C377.22 373.00 377.22 374.20 376.50 375.88 C372.08 377.10 358.82 377.10 354.40 375.88 C353.68 374.20 353.68 373.00 354.40 371.32 Z" fill="#9a9a9a" opacity="0.6"/>
<path d="M356.50 372.79 C360.10 372.52 370.90 372.55 374.50 372.79 C374.69 373.24 374.69 373.56 374.50 374.01 C370.90 374.38 360.10 374.38 356.50 374.01 C356.31 373.56 356.31 373.24 356.50 372.79 Z" fill="#666" stroke="#666" stroke-width="2.20" stroke-linejoin="round" opacity="0.060"/>
<path d="M356.50 372.79 C360.10 372.52 370.90 372.55 374.50 372.79 C374.69 373.24 374.69 373.56 374.50 374.01 C370.90 374.38 360.10 374.38 356.50 374.01 C356.31 373.56 356.31 373.24 356.50 372.79 Z" fill="#666" stroke="#666" stroke-width="1.50" stroke-linejoin="round" opacity="0.096"/>
<path d="M356.50 372.79 C360.10 372.52 370.90 372.55 374.50 372.79 C374.69 373.24 374.69 373.56 374.50 374.01 C370.90 374.38 360.10 374.38 356.50 374.01 C356.31 373.56 356.31 373.24 356.50 372.79 Z" fill="#666" stroke="#666" stroke-width="0.90" stroke-linejoin="round" opacity="0.132"/>
<path d="M356.50 372.79 C360.10 372.52 370.90 372.55 374.50 372.79 C374.69 373.24 374.69 373.56 374.50 374.01 C370.90 374.38 360.10 374.38 356.50 374.01 C356.31 373.56 356.31 373.24 356.50 372.79 Z" fill="#666" stroke="#666" stroke-width="0.40" stroke-linejoin="round" opacity="0.180"/>
<path d="M356.50 372.79 C360.10 372.52 370.90 372.55 374.50 372.79 C374.69 373.24 374.69 373.56 374.50 374.01 C370.90 374.38 360.10 374.38 356.50 374.01 C356.31 373.56 356.31 373.24 356.50 372.79 Z" fill="#666" opacity="0.6"/>
<path d="M381.80 369.80 C386.66 368.66 401.24 368.84 406.10 369.80 C407.16 372.62 407.16 374.38 406.10 377.20 C401.24 378.94 386.66 378.94 381.80 377.20 C380.74 374.38 380.74 372.62 381.80 369.80 Z" fill="#0a0a0a" stroke="#0a0a0a" stroke-width="2.64" stroke-linejoin="round" opacity="0.100"/>
<path d="M381.80 369.80 C386.66 368.66 401.24 368.84 406.10 369.80 C407.16 372.62 407.16 374.38 406.10 377.20 C401.24 378.94 386.66 378.94 381.80 377.20 C380.74 374.38 380.74 372.62 381.80 369.80 Z" fill="#0a0a0a" stroke="#0a0a0a" stroke-width="1.80" stroke-linejoin="round" opacity="0.160"/>
<path d="M381.80 369.80 C386.66 368.66 401.24 368.84 406.10 369.80 C407.16 372.62 407.16 374.38 406.10 377.20 C401.24 378.94 386.66 378.94 381.80 377.20 C380.74 374.38 380.74 372.62 381.80 369.80 Z" fill="#0a0a0a" stroke="#0a0a0a" stroke-width="1.08" stroke-linejoin="round" opacity="0.220"/>
<path d="M381.80 369.80 C386.66 368.66 401.24 368.84 406.10 369.80 C407.16 372.62 407.16 374.38 406.10 377.20 C401.24 378.94 386.66 378.94 381.80 377.20 C380.74 374.38 380.74 372.62 381.80 369.80 Z" fill="#0a0a0a" stroke="#0a0a0a" stroke-width="0.48" stroke-linejoin="round" opacity="0.300"/>
<path d="M381.80 369.80 C386.66 368.66 401.24 368.84 406.10 369.80 C407.16 372.62 407.16 374.38 406.10 377.20 C401.24 378.94 386.66 378.94 381.80 377.20 C380.74 374.38 380.74 372.62 381.80 369.80 Z" fill="#0a0a0a" opacity="1"/>
<path d="M382.50 375.83 C387.10 375.22 400.90 375.31 405.50 375.83 C405.93 376.84 405.93 377.56 405.50 378.57 C400.90 379.48 387.10 379.48 382.50 378.57 C382.07 377.56 382.07 376.84 382.50 375.83 Z" fill="#3a3a3a" stroke="#3a3a3a" stroke-width="3.52" stroke-linejoin="round" opacity="0.070"/>
<path d="M382.50 375.83 C387.10 375.22 400.90 375.31 405.50 375.83 C405.93 376.84 405.93 377.56 405.50 378.57 C400.90 379.48 387.10 379.48 382.50 378.57 C382.07 377.56 382.07 376.84 382.50 375.83 Z" fill="#3a3a3a" stroke="#3a3a3a" stroke-width="2.40" stroke-linejoin="round" opacity="0.112"/>
<path d="M382.50 375.83 C387.10 375.22 400.90 375.31 405.50 375.83 C405.93 376.84 405.93 377.56 405.50 378.57 C400.90 379.48 387.10 379.48 382.50 378.57 C382.07 377.56 382.07 376.84 382.50 375.83 Z" fill="#3a3a3a" stroke="#3a3a3a" stroke-width="1.44" stroke-linejoin="round" opacity="0.154"/>
<path d="M382.50 375.83 C387.10 375.22 400.90 375.31 405.50 375.83 C405.93 376.84 405.93 377.56 405.50 378.57 C400.90 379.48 387.10 379.48 382.50 378.57 C382.07 377.56 382.07 376.84 382.50 375.83 Z" fill="#3a3a3a" stroke="#3a3a3a" stroke-width="0.64" stroke-linejoin="round" opacity="0.210"/>
<path d="M382.50 375.83 C387.10 375.22 400.90 375.31 405.50 375.83 C405.93 376.84 405.93 377.56 405.50 378.57 C400.90 379.48 387.10 379.48 382.50 378.57 C382.07 377.56 382.07 376.84 382.50 375.83 Z" fill="#3a3a3a" opacity="0.7"/>
<path d="M410.40 369.53 C415.56 368.18 431.04 368.36 436.20 369.53 C437.45 372.86 437.45 374.94 436.20 378.27 C431.04 380.22 415.56 380.22 410.40 378.27 C409.15 374.94 409.15 372.86 410.40 369.53 Z" fill="#050505" stroke="#050505" stroke-width="2.64" stroke-linejoin="round" opacity="0.100"/>
<path d="M410.40 369.53 C415.56 368.18 431.04 368.36 436.20 369.53 C437.45 372.86 437.45 374.94 436.20 378.27 C431.04 380.22 415.56 380.22 410.40 378.27 C409.15 374.94 409.15 372.86 410.40 369.53 Z" fill="#050505" stroke="#050505" stroke-width="1.80" stroke-linejoin="round" opacity="0.160"/>
<path d="M410.40 369.53 C415.56 368.18 431.04 368.36 436.20 369.53 C437.45 372.86 437.45 374.94 436.20 378.27 C431.04 380.22 415.56 380.22 410.40 378.27 C409.15 374.94 409.15 372.86 410.40 369.53 Z" fill="#050505" stroke="#050505" stroke-width="1.08" stroke-linejoin="round" opacity="0.220"/>
<path d="M410.40 369.53 C415.56 368.18 431.04 368.36 436.20 369.53 C437.45 372.86 437.45 374.94 436.20 378.27 C431.04 380.22 415.56 380.22 410.40 378.27 C409.15 374.94 409.15 372.86 410.40 369.53 Z" fill="#050505" stroke="#050505" stroke-width="0.48" stroke-linejoin="round" opacity="0.300"/>
<path d="M410.40 369.53 C415.56 368.18 431.04 368.36 436.20 369.53 C437.45 372.86 437.45 374.94 436.20 378.27 C431.04 380.22 415.56 380.22 410.40 378.27 C409.15 374.94 409.15 372.86 410.40 369.53 Z" fill="#050505" opacity="1"/>
<path d="M441.50 371.80 C445.78 370.81 458.62 370.87 462.90 371.80 C463.60 373.42 463.60 374.58 462.90 376.20 C458.62 377.39 445.78 377.39 441.50 376.20 C440.80 374.58 440.80 373.42 441.50 371.80 Z" fill="#9e9e9e" stroke="#9e9e9e" stroke-width="4.40" stroke-linejoin="round" opacity="0.060"/>
<path d="M441.50 371.80 C445.78 370.81 458.62 370.87 462.90 371.80 C463.60 373.42 463.60 374.58 462.90 376.20 C458.62 377.39 445.78 377.39 441.50 376.20 C440.80 374.58 440.80 373.42 441.50 371.80 Z" fill="#9e9e9e" stroke="#9e9e9e" stroke-width="3.00" stroke-linejoin="round" opacity="0.096"/>
<path d="M441.50 371.80 C445.78 370.81 458.62 370.87 462.90 371.80 C463.60 373.42 463.60 374.58 462.90 376.20 C458.62 377.39 445.78 377.39 441.50 376.20 C440.80 374.58 440.80 373.42 441.50 371.80 Z" fill="#9e9e9e" stroke="#9e9e9e" stroke-width="1.80" stroke-linejoin="round" opacity="0.132"/>
<path d="M441.50 371.80 C445.78 370.81 458.62 370.87 462.90 371.80 C463.60 373.42 463.60 374.58 462.90 376.20 C458.62 377.39 445.78 377.39 441.50 376.20 C440.80 374.58 440.80 373.42 441.50 371.80 Z" fill="#9e9e9e" stroke="#9e9e9e" stroke-width="0.80" stroke-linejoin="round" opacity="0.180"/>
<path d="M441.50 371.80 C445.78 370.81 458.62 370.87 462.90 371.80 C463.60 373.42 463.60 374.58 462.90 376.20 C458.62 377.39 445.78 377.39 441.50 376.20 C440.80 374.58 440.80 373.42 441.50 371.80 Z" fill="#9e9e9e" opacity="0.6"/>
<path d="M443.50 373.33 C447.00 373.07 457.50 373.10 461.00 373.33 C461.18 373.75 461.18 374.05 461.00 374.47 C457.50 374.82 447.00 374.82 443.50 374.47 C443.32 374.05 443.32 373.75 443.50 373.33 Z" fill="#6a6a6a" stroke="#6a6a6a" stroke-width="2.20" stroke-linejoin="round" opacity="0.060"/>
<path d="M443.50 373.33 C447.00 373.07 457.50 373.10 461.00 373.33 C461.18 373.75 461.18 374.05 461.00 374.47 C457.50 374.82 447.00 374.82 443.50 374.47 C443.32 374.05 443.32 373.75 443.50 373.33 Z" fill="#6a6a6a" stroke="#6a6a6a" stroke-width="1.50" stroke-linejoin="round" opacity="0.096"/>
<path d="M443.50 373.33 C447.00 373.07 457.50 373.10 461.00 373.33 C461.18 373.75 461.18 374.05 461.00 374.47 C457.50 374.82 447.00 374.82 443.50 374.47 C443.32 374.05 443.32 373.75 443.50 373.33 Z" fill="#6a6a6a" stroke="#6a6a6a" stroke-width="0.90" stroke-linejoin="round" opacity="0.132"/>
<path d="M443.50 373.33 C447.00 373.07 457.50 373.10 461.00 373.33 C461.18 373.75 461.18 374.05 461.00 374.47 C457.50 374.82 447.00 374.82 443.50 374.47 C443.32 374.05 443.32 373.75 443.50 373.33 Z" fill="#6a6a6a" stroke="#6a6a6a" stroke-width="0.40" stroke-linejoin="round" opacity="0.180"/>
<path d="M443.50 373.33 C447.00 373.07 457.50 373.10 461.00 373.33 C461.18 373.75 461.18 374.05 461.00 374.47 C457.50 374.82 447.00 374.82 443.50 374.47 C443.32 374.05 443.32 373.75 443.50 373.33 Z" fill="#6a6a6a" opacity="0.6"/>
<path d="M352.70 397.52 C357.46 396.12 371.74 396.30 376.50 397.52 C377.17 398.64 377.17 399.76 376.50 400.88 C371.74 402.88 357.46 402.88 352.70 400.88 C352.03 399.76 352.03 398.64 352.70 397.52 Z" fill="#050505" stroke="#050505" stroke-width="2.64" stroke-linejoin="round" opacity="0.100"/>
<path d="M352.70 397.52 C357.46 396.12 371.74 396.30 376.50 397.52 C377.17 398.64 377.17 399.76 376.50 400.88 C371.74 402.88 357.46 402.88 352.70 400.88 C352.03 399.76 352.03 398.64 352.70 397.52 Z" fill="#050505" stroke="#050505" stroke-width="1.80" stroke-linejoin="round" opacity="0.160"/>
<path d="M352.70 397.52 C357.46 396.12 371.74 396.30 376.50 397.52 C377.17 398.64 377.17 399.76 376.50 400.88 C371.74 402.88 357.46 402.88 352.70 400.88 C352.03 399.76 352.03 398.64 352.70 397.52 Z" fill="#050505" stroke="#050505" stroke-width="1.08" stroke-linejoin="round" opacity="0.220"/>
<path d="M352.70 397.52 C357.46 396.12 371.74 396.30 376.50 397.52 C377.17 398.64 377.17 399.76 376.50 400.88 C371.74 402.88 357.46 402.88 352.70 400.88 C352.03 399.76 352.03 398.64 352.70 397.52 Z" fill="#050505" stroke="#050505" stroke-width="0.48" stroke-linejoin="round" opacity="0.300"/>
<path d="M352.70 397.52 C357.46 396.12 371.74 396.30 376.50 397.52 C377.17 398.64 377.17 399.76 376.50 400.88 C371.74 402.88 357.46 402.88 352.70 400.88 C352.03 399.76 352.03 398.64 352.70 397.52 Z" fill="#050505" opacity="1"/>
<path d="M381.80 397.52 C386.72 396.12 401.48 396.30 406.40 397.52 C407.07 398.64 407.07 399.76 406.40 400.88 C401.48 402.88 386.72 402.88 381.80 400.88 C381.13 399.76 381.13 398.64 381.80 397.52 Z" fill="#050505" stroke="#050505" stroke-width="2.64" stroke-linejoin="round" opacity="0.100"/>
<path d="M381.80 397.52 C386.72 396.12 401.48 396.30 406.40 397.52 C407.07 398.64 407.07 399.76 406.40 400.88 C401.48 402.88 386.72 402.88 381.80 400.88 C381.13 399.76 381.13 398.64 381.80 397.52 Z" fill="#050505" stroke="#050505" stroke-width="1.80" stroke-linejoin="round" opacity="0.160"/>
<path d="M381.80 397.52 C386.72 396.12 401.48 396.30 406.40 397.52 C407.07 398.64 407.07 399.76 406.40 400.88 C401.48 402.88 386.72 402.88 381.80 400.88 C381.13 399.76 381.13 398.64 381.80 397.52 Z" fill="#050505" stroke="#050505" stroke-width="1.08" stroke-linejoin="round" opacity="0.220"/>
<path d="M381.80 397.52 C386.72 396.12 401.48 396.30 406.40 397.52 C407.07 398.64 407.07 399.76 406.40 400.88 C401.48 402.88 386.72 402.88 381.80 400.88 C381.13 399.76 381.13 398.64 381.80 397.52 Z" fill="#050505" stroke="#050505" stroke-width="0.48" stroke-linejoin="round" opacity="0.300"/>
<path d="M381.80 397.52 C386.72 396.12 401.48 396.30 406.40 397.52 C407.07 398.64 407.07 399.76 406.40 400.88 C401.48 402.88 386.72 402.88 381.80 400.88 C381.13 399.76 381.13 398.64 381.80 397.52 Z" fill="#050505" opacity="1"/>
<path d="M410.90 397.52 C415.96 396.12 431.14 396.30 436.20 397.52 C436.87 398.64 436.87 399.76 436.20 400.88 C431.14 402.88 415.96 402.88 410.90 400.88 C410.23 399.76 410.23 398.64 410.90 397.52 Z" fill="#050505" stroke="#050505" stroke-width="2.64" stroke-linejoin="round" opacity="0.100"/>
<path d="M410.90 397.52 C415.96 396.12 431.14 396.30 436.20 397.52 C436.87 398.64 436.87 399.76 436.20 400.88 C431.14 402.88 415.96 402.88 410.90 400.88 C410.23 399.76 410.23 398.64 410.90 397.52 Z" fill="#050505" stroke="#050505" stroke-width="1.80" stroke-linejoin="round" opacity="0.160"/>
<path d="M410.90 397.52 C415.96 396.12 431.14 396.30 436.20 397.52 C436.87 398.64 436.87 399.76 436.20 400.88 C431.14 402.88 415.96 402.88 410.90 400.88 C410.23 399.76 410.23 398.64 410.90 397.52 Z" fill="#050505" stroke="#050505" stroke-width="1.08" stroke-linejoin="round" opacity="0.220"/>
<path d="M410.90 397.52 C415.96 396.12 431.14 396.30 436.20 397.52 C436.87 398.64 436.87 399.76 436.20 400.88 C431.14 402.88 415.96 402.88 410.90 400.88 C410.23 399.76 410.23 398.64 410.90 397.52 Z" fill="#050505" stroke="#050505" stroke-width="0.48" stroke-linejoin="round" opacity="0.300"/>
<path d="M410.90 397.52 C415.96 396.12 431.14 396.30 436.20 397.52 C436.87 398.64 436.87 399.76 436.20 400.88 C431.14 402.88 415.96 402.88 410.90 400.88 C410.23 399.76 410.23 398.64 410.90 397.52 Z" fill="#050505" opacity="1"/>
<path d="M440.80 397.52 C445.52 396.12 459.68 396.30 464.40 397.52 C465.07 398.64 465.07 399.76 464.40 400.88 C459.68 402.88 445.52 402.88 440.80 400.88 C440.13 399.76 440.13 398.64 440.80 397.52 Z" fill="#050505" stroke="#050505" stroke-width="2.64" stroke-linejoin="round" opacity="0.100"/>
<path d="M440.80 397.52 C445.52 396.12 459.68 396.30 464.40 397.52 C465.07 398.64 465.07 399.76 464.40 400.88 C459.68 402.88 445.52 402.88 440.80 400.88 C440.13 399.76 440.13 398.64 440.80 397.52 Z" fill="#050505" stroke="#050505" stroke-width="1.80" stroke-linejoin="round" opacity="0.160"/>
<path d="M440.80 397.52 C445.52 396.12 459.68 396.30 464.40 397.52 C465.07 398.64 465.07 399.76 464.40 400.88 C459.68 402.88 445.52 402.88 440.80 400.88 C440.13 399.76 440.13 398.64 440.80 397.52 Z" fill="#050505" stroke="#050505" stroke-width="1.08" stroke-linejoin="round" opacity="0.220"/>
<path d="M440.80 397.52 C445.52 396.12 459.68 396.30 464.40 397.52 C465.07 398.64 465.07 399.76 464.40 400.88 C459.68 402.88 445.52 402.88 440.80 400.88 C440.13 399.76 440.13 398.64 440.80 397.52 Z" fill="#050505" stroke="#050505" stroke-width="0.48" stroke-linejoin="round" opacity="0.300"/>
<path d="M440.80 397.52 C445.52 396.12 459.68 396.30 464.40 397.52 C465.07 398.64 465.07 399.76 464.40 400.88 C459.68 402.88 445.52 402.88 440.80 400.88 C440.13 399.76 440.13 398.64 440.80 397.52 Z" fill="#050505" opacity="1"/>
<rect x="349.5" y="315.9" width="117.30" height="22.30" fill="none" stroke="#111" stroke-width="1.25"/>
<rect x="349.5" y="341.7" width="117.30" height="18.40" fill="none" stroke="#111" stroke-width="1.25"/>
<rect x="349.5" y="364.2" width="117.30" height="24.20" fill="none" stroke="#111" stroke-width="1.25"/>
<rect x="349.5" y="392.8" width="117.30" height="14.80" fill="none" stroke="#111" stroke-width="1.25"/>
<text x="365.50" y="336.90" font-size="6.8" text-anchor="middle" font-weight="normal" font-style="normal" fill="#161414" style="stroke-width:0.05px">1</text>
<text x="394.50" y="336.90" font-size="6.8" text-anchor="middle" font-weight="normal" font-style="normal" fill="#161414" style="stroke-width:0.05px">1.10</text>
<text x="422.50" y="336.90" font-size="6.8" text-anchor="middle" font-weight="normal" font-style="normal" fill="#161414" style="stroke-width:0.05px">1.79</text>
<text x="451.50" y="336.90" font-size="6.8" text-anchor="middle" font-weight="normal" font-style="normal" fill="#161414" style="stroke-width:0.05px">1.64</text>
<text x="365.50" y="359.00" font-size="6.8" text-anchor="middle" font-weight="normal" font-style="normal" fill="#161414" style="stroke-width:0.05px">1</text>
<text x="394.50" y="359.00" font-size="6.8" text-anchor="middle" font-weight="normal" font-style="normal" fill="#161414" style="stroke-width:0.05px">0.97</text>
<text x="422.50" y="359.00" font-size="6.8" text-anchor="middle" font-weight="normal" font-style="normal" fill="#161414" style="stroke-width:0.05px">1.42</text>
<text x="451.50" y="359.00" font-size="6.8" text-anchor="middle" font-weight="normal" font-style="normal" fill="#161414" style="stroke-width:0.05px">1.23</text>
<text x="365.50" y="386.90" font-size="6.8" text-anchor="middle" font-weight="normal" font-style="normal" fill="#161414" style="stroke-width:0.05px">1</text>
<text x="394.50" y="386.90" font-size="6.8" text-anchor="middle" font-weight="normal" font-style="normal" fill="#161414" style="stroke-width:0.05px">3.99</text>
<text x="422.50" y="386.90" font-size="6.8" text-anchor="middle" font-weight="normal" font-style="normal" fill="#161414" style="stroke-width:0.05px">5.23</text>
<text x="451.50" y="386.90" font-size="6.8" text-anchor="middle" font-weight="normal" font-style="normal" fill="#161414" style="stroke-width:0.05px">•</text>
<text x="470.20" y="324.70" font-size="8.0" text-anchor="start" font-weight="normal" font-style="normal" fill="#161414" textLength="42.8" lengthAdjust="spacingAndGlyphs" >p-NF-κB p65</text>
<text x="470.20" y="333.10" font-size="8.0" text-anchor="start" font-weight="normal" font-style="normal" fill="#161414" textLength="26" lengthAdjust="spacingAndGlyphs" >(Ser536)</text>
<text x="470.20" y="348.50" font-size="8.0" text-anchor="start" font-weight="normal" font-style="normal" fill="#161414" textLength="18" lengthAdjust="spacingAndGlyphs" >p-Akt</text>
<text x="470.20" y="356.50" font-size="8.0" text-anchor="start" font-weight="normal" font-style="normal" fill="#161414" textLength="26.4" lengthAdjust="spacingAndGlyphs" >(Ser473)</text>
<text x="470.20" y="378.40" font-size="8.0" text-anchor="start" font-weight="normal" font-style="normal" fill="#161414" textLength="23.3" lengthAdjust="spacingAndGlyphs" >CD79B</text>
<text x="470.20" y="401.80" font-size="8.0" text-anchor="start" font-weight="normal" font-style="normal" fill="#161414" textLength="26" lengthAdjust="spacingAndGlyphs" >GAPDH</text>
</g>
<rect x="0.5" y="0.5" width="518.8" height="483.8" fill="none" stroke="#000" stroke-width="1.2"/>
</svg>
</body></html>
